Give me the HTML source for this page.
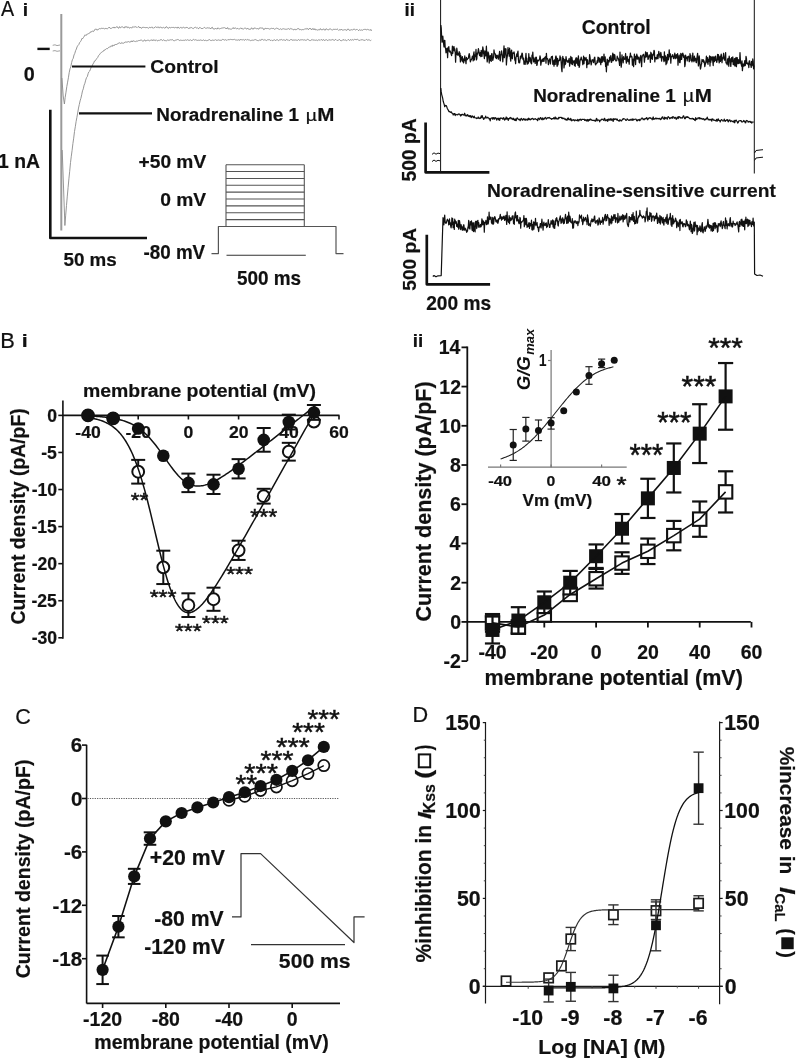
<!DOCTYPE html>
<html><head><meta charset="utf-8"><style>
html,body{margin:0;padding:0;background:#fff;}
svg{display:block;font-family:"Liberation Sans",sans-serif;will-change:transform;}
</style></head><body>
<svg width="796" height="1059" viewBox="0 0 796 1059">
<rect width="796" height="1059" fill="#fff"/>
<text transform="translate(0.90,16.00) scale(0.9247,1)" font-size="21.30" font-weight="normal" font-style="normal" fill="#111" stroke="#111" stroke-width="0.2" >A</text>
<text transform="translate(22.85,16.00) scale(1.0924,1)" font-size="17.66" font-weight="bold" font-style="normal" fill="#111" stroke="#111" stroke-width="0.2" >i</text>
<rect x="37.40" y="47.70" width="12.30" height="2.40" fill="#111" />
<text transform="translate(23.81,81.40) scale(0.9965,1)" font-size="19.86" font-weight="bold" font-style="normal" fill="#111" stroke="#111" stroke-width="0.2" >0</text>
<polyline points="52.70,45.30 55.00,44.80 57.00,45.60 60.00,45.00" fill="none" stroke="#8a8a8a" stroke-width="0.8" stroke-linejoin="round" />
<polyline points="52.70,51.00 55.00,50.60 57.00,51.30 60.00,50.80" fill="none" stroke="#8a8a8a" stroke-width="0.8" stroke-linejoin="round" />
<line x1="61.30" y1="14.00" x2="61.30" y2="230.50" stroke="#9a9a9a" stroke-width="2.0" />
<polyline points="61.90,78.00 63.20,96.00 64.40,104.00 65.20,97.31 66.00,92.14 66.80,86.58 67.60,82.17 68.40,77.77 69.20,72.68 70.00,68.83 70.80,66.86 71.60,62.65 72.40,59.69 73.20,58.38 74.00,54.98 74.80,53.37 75.60,50.64 76.40,49.02 77.20,46.39 78.00,45.64 78.80,44.57 79.60,42.59 80.40,41.72 81.20,40.44 82.00,38.29 82.80,38.57 83.60,37.37 84.40,36.02 85.20,34.78 86.00,35.58 86.80,34.24 87.60,34.09 88.40,33.84 89.20,33.04 90.00,32.96 90.80,31.59 91.60,31.94 92.40,30.94 93.20,31.50 94.00,31.10 94.80,29.41 95.60,29.23 96.40,29.14 97.20,30.28 98.00,29.13 98.80,29.29 99.60,28.54 100.40,28.75 101.20,28.39 102.00,28.20 102.80,28.51 103.60,28.39 104.40,28.87 105.20,28.38 106.00,28.74 106.80,28.53 107.60,28.70 108.40,28.06 109.20,27.08 110.00,28.28 110.80,28.43 111.60,28.28 112.40,27.64 113.20,27.87 114.00,26.94 114.80,28.03 115.60,27.55 116.40,27.01 117.20,26.59 118.00,28.00 118.80,28.23 119.60,26.60 120.40,27.87 121.20,27.16 122.00,26.69 122.80,26.94 123.60,27.79 124.40,27.98 125.20,26.48 126.00,27.51 126.80,26.48 127.60,27.69 128.40,27.00 129.20,27.99 130.00,28.17 130.80,27.32 131.60,28.21 132.40,26.97 133.20,26.56 134.00,27.51 134.80,26.49 135.60,26.79 136.40,27.18 137.20,27.55 138.00,26.74 138.80,26.54 139.60,28.03 140.40,27.04 141.20,28.21 142.00,28.10 142.80,27.18 143.60,27.33 144.40,27.45 145.20,27.68 146.00,27.60 146.80,27.54 147.60,27.66 148.40,28.25 149.20,27.47 150.00,27.35 150.80,27.87 151.60,27.01 152.40,27.14 153.20,28.36 154.00,27.55 154.80,27.61 155.60,26.65 156.40,27.39 157.20,27.69 158.00,26.69 158.80,27.77 159.60,27.81 160.40,26.79 161.20,27.82 162.00,27.54 162.80,27.93 163.60,27.35 164.40,28.00 165.20,28.06 166.00,26.79 166.80,26.86 167.60,27.98 168.40,28.51 169.20,27.23 170.00,27.61 170.80,27.87 171.60,27.39 172.40,27.47 173.20,27.39 174.00,27.50 174.80,27.92 175.60,27.40 176.40,27.54 177.20,28.26 178.00,26.93 178.80,27.92 179.60,28.22 180.40,27.47 181.20,27.32 182.00,28.37 182.80,27.37 183.60,27.28 184.40,27.74 185.20,28.22 186.00,27.16 186.80,27.56 187.60,27.59 188.40,28.50 189.20,27.80 190.00,28.56 190.80,27.33 191.60,27.64 192.40,28.22 193.20,28.65 194.00,27.88 194.80,27.48 195.60,27.30 196.40,28.05 197.20,27.45 198.00,28.56 198.80,28.63 199.60,27.46 200.40,27.64 201.20,28.60 202.00,28.31 202.80,28.62 203.60,27.80 204.40,27.42 205.20,27.72 206.00,28.63 206.80,27.70 207.60,27.85 208.40,27.98 209.20,28.00 210.00,27.99 210.80,28.92 211.60,27.55 212.40,27.29 213.20,28.98 214.00,28.88 214.80,29.08 215.60,28.10 216.40,29.03 217.20,29.00 218.00,27.74 218.80,28.69 219.60,28.87 220.40,28.56 221.20,28.31 222.00,27.91 222.80,28.01 223.60,27.82 224.40,27.54 225.20,28.48 226.00,27.95 226.80,28.90 227.60,27.53 228.40,29.09 229.20,28.72 230.00,29.14 230.80,29.10 231.60,29.12 232.40,28.55 233.20,27.54 234.00,28.87 234.80,27.84 235.60,28.08 236.40,28.75 237.20,28.51 238.00,28.32 238.80,29.27 239.60,28.69 240.40,28.21 241.20,28.06 242.00,29.17 242.80,28.49 243.60,29.04 244.40,28.28 245.20,28.01 246.00,28.63 246.80,29.14 247.60,27.99 248.40,29.12 249.20,29.36 250.00,29.16 250.80,29.20 251.60,27.74 252.40,28.87 253.20,29.30 254.00,27.85 254.80,28.25 255.60,28.26 256.40,28.73 257.20,28.55 258.00,28.65 258.80,29.21 259.60,27.82 260.40,27.93 261.20,28.07 262.00,28.07 262.80,27.98 263.60,29.62 264.40,29.41 265.20,28.04 266.00,28.80 266.80,28.47 267.60,28.48 268.40,28.55 269.20,29.09 270.00,28.99 270.80,28.60 271.60,28.30 272.40,28.56 273.20,28.20 274.00,28.99 274.80,29.28 275.60,28.69 276.40,28.16 277.20,28.34 278.00,28.70 278.80,29.13 279.60,29.46 280.40,28.74 281.20,29.51 282.00,29.20 282.80,28.86 283.60,28.77 284.40,29.00 285.20,29.38 286.00,28.88 286.80,29.38 287.60,28.97 288.40,28.59 289.20,29.12 290.00,29.42 290.80,28.31 291.60,28.95 292.40,28.96 293.20,29.79 294.00,29.90 294.80,28.90 295.60,29.85 296.40,29.67 297.20,28.72 298.00,29.10 298.80,28.49 299.60,29.74 300.40,29.48 301.20,29.89 302.00,29.73 302.80,29.52 303.60,29.65 304.40,29.35 305.20,28.53 306.00,29.41 306.80,28.37 307.60,28.63 308.40,29.77 309.20,28.47 310.00,28.56 310.80,28.59 311.60,30.00 312.40,28.75 313.20,28.48 314.00,29.96 314.80,28.67 315.60,29.98 316.40,29.68 317.20,29.99 318.00,30.21 318.80,29.54 319.60,29.95 320.40,28.58 321.20,29.91 322.00,29.46 322.80,29.83 323.60,28.75 324.40,29.91 325.20,30.26 326.00,28.69 326.80,29.18 327.60,29.62 328.40,30.10 329.20,29.06 330.00,28.95 330.80,29.09 331.60,29.76 332.40,30.01 333.20,29.37 334.00,29.34 334.80,29.40 335.60,29.32 336.40,29.46 337.20,28.86 338.00,29.62 338.80,30.48 339.60,29.48 340.40,30.09 341.20,29.05 342.00,30.01 342.80,30.14 343.60,30.00 344.40,29.73 345.20,29.67 346.00,29.97 346.80,30.44 347.60,29.10 348.40,29.01 349.20,30.20 350.00,30.51 350.80,29.80 351.60,29.67 352.40,30.18 353.20,29.23 354.00,29.39 354.80,29.27 355.60,29.98 356.40,29.50 357.20,29.36 358.00,30.19 358.80,30.68 359.60,29.50 360.40,30.25 361.20,29.73 362.00,30.53 362.80,30.06 363.60,29.50 364.40,29.42 365.20,29.07 366.00,29.91 366.80,29.74 367.60,29.37 368.40,29.72 369.20,29.66 370.00,30.48 370.80,29.36 371.60,30.89" fill="none" stroke="#8a8a8a" stroke-width="0.9" stroke-linejoin="round" />
<polyline points="62.20,150.00 64.90,225.50 65.70,215.15 66.50,205.39 67.30,196.10 68.10,187.48 68.90,178.87 69.70,171.26 70.50,162.60 71.30,156.22 72.10,150.29 72.90,143.66 73.70,138.15 74.50,131.51 75.30,126.78 76.10,121.55 76.90,117.32 77.70,112.98 78.50,108.06 79.30,104.45 80.10,100.86 80.90,98.28 81.70,94.79 82.50,90.86 83.30,88.84 84.10,85.17 84.90,83.25 85.70,80.12 86.50,77.64 87.30,76.68 88.10,73.70 88.90,71.78 89.70,71.03 90.50,69.15 91.30,66.71 92.10,66.12 92.90,64.08 93.70,62.91 94.50,60.97 95.30,60.78 96.10,59.29 96.90,58.60 97.70,57.48 98.50,55.68 99.30,54.87 100.10,53.74 100.90,52.90 101.70,52.03 102.50,51.65 103.30,51.39 104.10,49.91 104.90,50.26 105.70,49.21 106.50,48.64 107.30,48.85 108.10,47.90 108.90,47.22 109.70,47.02 110.50,46.94 111.30,45.65 112.10,46.58 112.90,44.91 113.70,45.61 114.50,45.45 115.30,44.01 116.10,44.82 116.90,43.98 117.70,44.04 118.50,43.02 119.30,42.86 120.10,42.85 120.90,43.75 121.70,42.51 122.50,43.13 123.30,43.21 124.10,43.08 124.90,42.11 125.70,41.99 126.50,42.10 127.30,42.34 128.10,41.29 128.90,42.08 129.70,42.05 130.50,42.05 131.30,40.81 132.10,42.00 132.90,40.72 133.70,41.00 134.50,41.31 135.30,41.67 136.10,40.80 136.90,41.56 137.70,40.98 138.50,40.60 139.30,40.56 140.10,40.31 140.90,40.13 141.70,40.19 142.50,40.91 143.30,41.30 144.10,40.10 144.90,39.91 145.70,41.19 146.50,40.53 147.30,40.32 148.10,40.06 148.90,40.53 149.70,40.84 150.50,40.30 151.30,40.23 152.10,39.70 152.90,40.88 153.70,39.63 154.50,40.26 155.30,40.73 156.10,39.72 156.90,40.55 157.70,40.84 158.50,40.38 159.30,40.59 160.10,39.63 160.90,40.08 161.70,39.67 162.50,40.63 163.30,39.85 164.10,40.07 164.90,40.82 165.70,40.61 166.50,40.78 167.30,40.04 168.10,40.08 168.90,40.41 169.70,40.06 170.50,39.79 171.30,39.94 172.10,39.58 172.90,39.90 173.70,40.75 174.50,40.71 175.30,40.24 176.10,40.05 176.90,39.83 177.70,39.47 178.50,39.73 179.30,40.44 180.10,40.56 180.90,39.84 181.70,40.44 182.50,40.42 183.30,40.31 184.10,40.26 184.90,40.39 185.70,39.84 186.50,40.31 187.30,39.72 188.10,40.00 188.90,40.40 189.70,40.29 190.50,39.73 191.30,40.64 192.10,40.23 192.90,40.13 193.70,39.33 194.50,40.08 195.30,39.66 196.10,40.25 196.90,39.96 197.70,40.45 198.50,40.22 199.30,40.43 200.10,39.80 200.90,40.21 201.70,40.34 202.50,40.47 203.30,39.80 204.10,40.49 204.90,40.52 205.70,40.27 206.50,40.67 207.30,40.64 208.10,40.03 208.90,40.05 209.70,39.54 210.50,40.48 211.30,40.62 212.10,39.97 212.90,40.27 213.70,40.31 214.50,40.33 215.30,39.54 216.10,40.40 216.90,40.12 217.70,40.23 218.50,39.89 219.30,40.18 220.10,40.39 220.90,40.19 221.70,40.31 222.50,39.34 223.30,39.53 224.10,39.92 224.90,40.21 225.70,39.61 226.50,40.26 227.30,40.18 228.10,39.36 228.90,39.96 229.70,39.62 230.50,39.38 231.30,39.49 232.10,39.75 232.90,39.56 233.70,39.57 234.50,39.35 235.30,39.95 236.10,39.83 236.90,40.16 237.70,40.13 238.50,39.63 239.30,40.57 240.10,39.30 240.90,39.87 241.70,39.69 242.50,39.87 243.30,39.46 244.10,40.46 244.90,39.82 245.70,39.35 246.50,40.16 247.30,39.43 248.10,40.06 248.90,39.78 249.70,40.11 250.50,40.64 251.30,40.45 252.10,39.89 252.90,40.44 253.70,40.20 254.50,39.82 255.30,39.50 256.10,40.13 256.90,40.09 257.70,40.64 258.50,40.66 259.30,40.15 260.10,39.79 260.90,40.55 261.70,39.30 262.50,39.45 263.30,40.09 264.10,40.16 264.90,39.50 265.70,40.18 266.50,40.55 267.30,39.83 268.10,39.90 268.90,39.62 269.70,39.71 270.50,40.66 271.30,39.83 272.10,40.65 272.90,40.58 273.70,40.13 274.50,39.66 275.30,40.67 276.10,39.99 276.90,39.88 277.70,39.75 278.50,40.68 279.30,39.99 280.10,39.70 280.90,39.97 281.70,39.47 282.50,40.17 283.30,39.92 284.10,39.71 284.90,40.39 285.70,40.46 286.50,39.32 287.30,40.05 288.10,39.68 288.90,40.61 289.70,40.39 290.50,39.64 291.30,39.67 292.10,39.52 292.90,40.68 293.70,39.71 294.50,40.15 295.30,39.96 296.10,40.20 296.90,40.15 297.70,40.34 298.50,39.47 299.30,40.36 300.10,39.72 300.90,40.05 301.70,39.77 302.50,39.72 303.30,40.04 304.10,39.95 304.90,39.81 305.70,40.34 306.50,40.13 307.30,39.35 308.10,39.65 308.90,39.94 309.70,40.58 310.50,40.54 311.30,40.06 312.10,39.32 312.90,40.39 313.70,39.90 314.50,40.11 315.30,40.29 316.10,40.19 316.90,39.97 317.70,40.58 318.50,39.84 319.30,39.85 320.10,40.49 320.90,39.58 321.70,39.72 322.50,40.46 323.30,39.39 324.10,40.47 324.90,40.27 325.70,39.91 326.50,39.70 327.30,40.39 328.10,40.57 328.90,39.50 329.70,39.97 330.50,40.07 331.30,40.00 332.10,39.76 332.90,39.51 333.70,40.12 334.50,40.44 335.30,39.40 336.10,39.62 336.90,40.45 337.70,40.41 338.50,40.23 339.30,39.34 340.10,40.31 340.90,40.67 341.70,40.70 342.50,40.28 343.30,39.37 344.10,40.48 344.90,39.61 345.70,40.20 346.50,40.63 347.30,40.30 348.10,39.49 348.90,39.71 349.70,40.59 350.50,39.51 351.30,40.15 352.10,39.88 352.90,39.53 353.70,40.17 354.50,39.36 355.30,39.45 356.10,39.83 356.90,39.40 357.70,39.38 358.50,40.11 359.30,40.34 360.10,40.53 360.90,39.49 361.70,39.90 362.50,39.74 363.30,40.14 364.10,39.99 364.90,40.61 365.70,39.82 366.50,39.38 367.30,40.28 368.10,39.51 368.90,40.18 369.70,40.01 370.50,40.57 371.30,40.08" fill="none" stroke="#8a8a8a" stroke-width="0.9" stroke-linejoin="round" />
<line x1="72.00" y1="66.50" x2="145.40" y2="66.50" stroke="#111" stroke-width="2.2" />
<line x1="79.00" y1="113.30" x2="152.00" y2="113.30" stroke="#111" stroke-width="2.2" />
<text transform="translate(150.23,72.81) scale(1.0119,1)" font-size="19.05" font-weight="bold" font-style="normal" fill="#111" stroke="#111" stroke-width="0.2" >Control</text>
<text transform="translate(156.27,120.70) scale(1.0419,1)" font-size="18.12" font-weight="bold" font-style="normal" fill="#111" stroke="#111" stroke-width="0.2" >Noradrenaline 1</text>
<text transform="translate(305.84,120.92) scale(1.1383,1)" font-size="17.03" font-weight="normal" font-style="normal" fill="#111" stroke="#111" stroke-width="0.2" >µ</text>
<text transform="translate(317.16,120.70) scale(1.1355,1)" font-size="18.12" font-weight="bold" font-style="normal" fill="#111" stroke="#111" stroke-width="0.2" >M</text>
<polyline points="50.30,111.00 50.30,238.00 145.70,238.00" fill="none" stroke="#111" stroke-width="2.6" stroke-linejoin="round" stroke-linecap="square"/>
<text transform="translate(-1.96,167.90) scale(0.9830,1)" font-size="19.71" font-weight="bold" font-style="normal" fill="#111" stroke="#111" stroke-width="0.2" >1 nA</text>
<text transform="translate(63.44,265.71) scale(0.9818,1)" font-size="19.15" font-weight="bold" font-style="normal" fill="#111" stroke="#111" stroke-width="0.2" >50 ms</text>
<polyline points="211.50,253.60 218.40,253.60 218.40,226.50 336.00,226.50 336.00,253.60 343.50,253.60" fill="none" stroke="#555" stroke-width="1.2" stroke-linejoin="round" />
<line x1="226.00" y1="164.70" x2="304.30" y2="164.70" stroke="#555" stroke-width="1.1" />
<line x1="226.00" y1="171.57" x2="304.30" y2="171.57" stroke="#555" stroke-width="1.1" />
<line x1="226.00" y1="178.43" x2="304.30" y2="178.43" stroke="#555" stroke-width="1.1" />
<line x1="226.00" y1="185.30" x2="304.30" y2="185.30" stroke="#555" stroke-width="1.1" />
<line x1="226.00" y1="192.17" x2="304.30" y2="192.17" stroke="#555" stroke-width="1.1" />
<line x1="226.00" y1="199.03" x2="304.30" y2="199.03" stroke="#555" stroke-width="1.1" />
<line x1="226.00" y1="205.90" x2="304.30" y2="205.90" stroke="#555" stroke-width="1.1" />
<line x1="226.00" y1="212.77" x2="304.30" y2="212.77" stroke="#555" stroke-width="1.1" />
<line x1="226.00" y1="219.63" x2="304.30" y2="219.63" stroke="#555" stroke-width="1.1" />
<line x1="226.00" y1="226.50" x2="304.30" y2="226.50" stroke="#555" stroke-width="1.1" />
<line x1="226.00" y1="164.70" x2="226.00" y2="226.50" stroke="#555" stroke-width="1.1" />
<line x1="304.30" y1="164.70" x2="304.30" y2="226.50" stroke="#555" stroke-width="1.1" />
<line x1="226.50" y1="255.30" x2="305.80" y2="255.30" stroke="#333" stroke-width="1.1" />
<text transform="translate(138.53,168.00) scale(1.0088,1)" font-size="19.00" font-weight="bold" font-style="normal" fill="#111" stroke="#111" stroke-width="0.2" >+50 mV</text>
<text transform="translate(160.23,205.60) scale(0.9972,1)" font-size="19.29" font-weight="bold" font-style="normal" fill="#111" stroke="#111" stroke-width="0.2" >0 mV</text>
<text transform="translate(143.45,259.40) scale(0.9689,1)" font-size="19.43" font-weight="bold" font-style="normal" fill="#111" stroke="#111" stroke-width="0.2" >-80 mV</text>
<text transform="translate(236.93,284.90) scale(0.9808,1)" font-size="19.29" font-weight="bold" font-style="normal" fill="#111" stroke="#111" stroke-width="0.2" >500 ms</text>
<text transform="translate(404.60,15.80) scale(1.0602,1)" font-size="17.52" font-weight="bold" font-style="normal" fill="#111" stroke="#111" stroke-width="0.2" >ii</text>
<line x1="440.60" y1="0.00" x2="440.60" y2="172.50" stroke="#111" stroke-width="1.0" />
<line x1="754.30" y1="0.00" x2="754.30" y2="173.50" stroke="#111" stroke-width="1.0" />
<polyline points="440.80,25.00 441.20,27.77 441.60,36.03 442.00,42.13 442.40,38.41 442.80,36.08 443.20,40.69 443.60,43.79 444.00,46.95 444.40,40.57 444.80,40.33 445.20,47.58 445.60,48.47 446.00,52.80 446.40,51.86 446.80,48.61 447.20,48.04 447.60,57.62 448.00,49.85 448.40,47.69 448.80,46.67 449.20,50.95 449.60,52.01 450.00,50.93 450.40,51.62 450.80,52.76 451.20,54.22 451.60,55.67 452.00,52.91 452.40,46.03 452.80,53.28 453.20,47.20 453.60,50.49 454.00,46.60 454.40,50.90 454.80,48.83 455.20,51.78 455.60,62.14 456.00,52.44 456.40,54.61 456.80,48.21 457.20,51.19 457.60,55.02 458.00,53.41 458.40,55.10 458.80,54.82 459.20,51.56 459.60,56.66 460.00,53.17 460.40,61.88 460.80,55.56 461.20,59.07 461.60,57.64 462.00,60.95 462.40,56.66 462.80,61.75 463.20,58.81 463.60,62.85 464.00,61.15 464.40,59.28 464.80,55.96 465.20,60.51 465.60,59.98 466.00,63.65 466.40,57.42 466.80,59.61 467.20,59.62 467.60,58.80 468.00,58.36 468.40,58.13 468.80,55.46 469.20,53.69 469.60,55.39 470.00,58.72 470.40,61.84 470.80,60.23 471.20,60.03 471.60,58.86 472.00,58.21 472.40,56.20 472.80,57.63 473.20,60.81 473.60,54.10 474.00,51.85 474.40,59.97 474.80,55.11 475.20,56.64 475.60,56.26 476.00,49.42 476.40,59.97 476.80,58.84 477.20,53.25 477.60,54.20 478.00,52.03 478.40,48.64 478.80,50.85 479.20,52.81 479.60,55.58 480.00,54.69 480.40,52.59 480.80,56.66 481.20,50.37 481.60,54.79 482.00,56.47 482.40,52.21 482.80,46.93 483.20,49.29 483.60,53.41 484.00,54.96 484.40,58.58 484.80,50.81 485.20,53.27 485.60,55.78 486.00,53.57 486.40,46.21 486.80,55.78 487.20,61.95 487.60,58.54 488.00,51.98 488.40,52.95 488.80,55.25 489.20,63.01 489.60,57.96 490.00,55.83 490.40,60.32 490.80,55.58 491.20,61.40 491.60,53.86 492.00,53.70 492.40,57.63 492.80,60.45 493.20,58.34 493.60,56.99 494.00,49.98 494.40,52.80 494.80,53.53 495.20,53.93 495.60,57.68 496.00,55.18 496.40,58.60 496.80,56.77 497.20,55.25 497.60,56.60 498.00,57.83 498.40,59.22 498.80,54.90 499.20,55.05 499.60,51.26 500.00,60.33 500.40,60.80 500.80,55.41 501.20,53.66 501.60,50.85 502.00,54.96 502.40,55.44 502.80,61.80 503.20,56.13 503.60,51.99 504.00,45.93 504.40,57.62 504.80,54.92 505.20,48.74 505.60,53.93 506.00,48.82 506.40,64.87 506.80,59.20 507.20,56.83 507.60,54.20 508.00,47.58 508.40,53.43 508.80,49.58 509.20,56.21 509.60,48.19 510.00,51.33 510.40,58.72 510.80,61.08 511.20,52.26 511.60,50.14 512.00,57.84 512.40,58.77 512.80,52.98 513.20,53.33 513.60,53.46 514.00,51.96 514.40,53.53 514.80,60.09 515.20,59.17 515.60,63.64 516.00,57.33 516.40,56.54 516.80,53.82 517.20,56.42 517.60,52.99 518.00,51.20 518.40,59.17 518.80,62.68 519.20,61.26 519.60,62.84 520.00,59.64 520.40,56.23 520.80,58.57 521.20,57.48 521.60,55.08 522.00,53.03 522.40,53.59 522.80,58.60 523.20,59.84 523.60,58.09 524.00,64.20 524.40,61.00 524.80,62.06 525.20,64.31 525.60,57.94 526.00,53.43 526.40,61.75 526.80,58.06 527.20,64.12 527.60,61.68 528.00,63.57 528.40,63.00 528.80,53.67 529.20,61.67 529.60,58.10 530.00,57.40 530.40,58.36 530.80,62.39 531.20,63.25 531.60,63.77 532.00,55.14 532.40,57.58 532.80,52.06 533.20,58.80 533.60,61.90 534.00,57.83 534.40,60.62 534.80,60.92 535.20,63.48 535.60,57.83 536.00,57.13 536.40,57.26 536.80,65.47 537.20,64.29 537.60,60.20 538.00,60.85 538.40,60.56 538.80,60.82 539.20,59.51 539.60,58.94 540.00,55.87 540.40,57.54 540.80,65.24 541.20,62.57 541.60,60.75 542.00,59.65 542.40,60.46 542.80,61.53 543.20,58.44 543.60,60.85 544.00,61.31 544.40,58.18 544.80,57.71 545.20,57.00 545.60,56.74 546.00,63.10 546.40,53.31 546.80,58.99 547.20,58.58 547.60,58.54 548.00,60.90 548.40,64.58 548.80,61.63 549.20,60.60 549.60,58.97 550.00,60.39 550.40,63.98 550.80,60.19 551.20,57.32 551.60,56.62 552.00,57.09 552.40,56.25 552.80,64.29 553.20,62.87 553.60,60.80 554.00,66.11 554.40,59.89 554.80,63.77 555.20,64.42 555.60,56.89 556.00,55.99 556.40,57.96 556.80,64.20 557.20,66.26 557.60,58.32 558.00,64.81 558.40,60.96 558.80,60.50 559.20,59.96 559.60,60.67 560.00,55.92 560.40,57.99 560.80,57.46 561.20,63.00 561.60,68.85 562.00,71.63 562.40,61.96 562.80,56.27 563.20,59.85 563.60,58.53 564.00,67.87 564.40,64.38 564.80,59.71 565.20,64.55 565.60,63.81 566.00,56.67 566.40,59.36 566.80,60.62 567.20,61.59 567.60,62.06 568.00,60.57 568.40,62.09 568.80,59.73 569.20,58.42 569.60,66.10 570.00,63.25 570.40,63.14 570.80,56.49 571.20,60.33 571.60,63.98 572.00,57.53 572.40,64.52 572.80,60.50 573.20,62.58 573.60,61.06 574.00,62.01 574.40,65.32 574.80,60.46 575.20,66.27 575.60,59.31 576.00,57.97 576.40,63.14 576.80,57.96 577.20,59.59 577.60,63.93 578.00,65.42 578.40,55.86 578.80,62.12 579.20,67.34 579.60,65.71 580.00,60.83 580.40,59.05 580.80,59.81 581.20,57.09 581.60,59.64 582.00,60.19 582.40,60.37 582.80,64.70 583.20,60.60 583.60,56.10 584.00,63.71 584.40,57.69 584.80,58.99 585.20,60.15 585.60,59.58 586.00,57.36 586.40,59.53 586.80,67.69 587.20,59.57 587.60,60.11 588.00,64.26 588.40,63.51 588.80,63.46 589.20,63.76 589.60,54.56 590.00,57.04 590.40,60.55 590.80,62.16 591.20,64.93 591.60,62.56 592.00,59.95 592.40,60.53 592.80,59.76 593.20,61.15 593.60,62.69 594.00,59.55 594.40,57.62 594.80,57.23 595.20,63.53 595.60,64.86 596.00,64.07 596.40,63.51 596.80,63.35 597.20,60.60 597.60,62.42 598.00,57.03 598.40,59.14 598.80,57.64 599.20,62.20 599.60,58.48 600.00,59.55 600.40,61.33 600.80,64.65 601.20,58.05 601.60,56.78 602.00,62.34 602.40,56.73 602.80,61.13 603.20,58.32 603.60,59.49 604.00,54.05 604.40,61.64 604.80,58.59 605.20,56.92 605.60,66.41 606.00,63.09 606.40,71.80 606.80,62.74 607.20,59.19 607.60,60.24 608.00,65.24 608.40,60.52 608.80,61.50 609.20,61.83 609.60,57.22 610.00,60.04 610.40,58.32 610.80,55.69 611.20,62.26 611.60,62.37 612.00,60.46 612.40,57.02 612.80,53.03 613.20,60.66 613.60,59.67 614.00,54.38 614.40,59.03 614.80,54.82 615.20,59.18 615.60,60.25 616.00,61.06 616.40,60.70 616.80,60.51 617.20,56.21 617.60,58.15 618.00,57.96 618.40,58.83 618.80,60.58 619.20,61.92 619.60,65.38 620.00,52.11 620.40,60.18 620.80,59.19 621.20,67.12 621.60,63.70 622.00,54.86 622.40,60.48 622.80,58.15 623.20,62.79 623.60,56.67 624.00,59.04 624.40,59.22 624.80,59.35 625.20,57.78 625.60,53.50 626.00,60.46 626.40,63.05 626.80,59.88 627.20,56.40 627.60,59.95 628.00,61.55 628.40,59.33 628.80,59.58 629.20,64.24 629.60,56.56 630.00,57.46 630.40,53.18 630.80,56.58 631.20,56.86 631.60,56.17 632.00,56.95 632.40,65.14 632.80,59.63 633.20,59.23 633.60,66.71 634.00,60.25 634.40,54.02 634.80,60.22 635.20,56.60 635.60,64.55 636.00,56.10 636.40,57.25 636.80,54.04 637.20,59.20 637.60,56.19 638.00,58.92 638.40,58.22 638.80,57.37 639.20,62.32 639.60,62.89 640.00,60.11 640.40,56.48 640.80,55.34 641.20,59.43 641.60,66.68 642.00,58.14 642.40,55.90 642.80,55.77 643.20,54.32 643.60,54.40 644.00,56.76 644.40,62.24 644.80,58.08 645.20,55.78 645.60,51.76 646.00,57.09 646.40,56.80 646.80,52.72 647.20,52.54 647.60,55.78 648.00,59.46 648.40,58.50 648.80,56.87 649.20,54.81 649.60,56.51 650.00,55.49 650.40,62.34 650.80,52.25 651.20,53.39 651.60,58.71 652.00,54.21 652.40,59.26 652.80,55.14 653.20,55.32 653.60,53.72 654.00,50.30 654.40,51.28 654.80,61.83 655.20,58.05 655.60,57.52 656.00,58.65 656.40,57.59 656.80,59.00 657.20,55.03 657.60,54.75 658.00,58.71 658.40,54.89 658.80,51.31 659.20,54.53 659.60,53.94 660.00,57.70 660.40,53.87 660.80,52.36 661.20,54.61 661.60,61.07 662.00,56.70 662.40,56.91 662.80,56.50 663.20,57.44 663.60,59.67 664.00,61.52 664.40,51.90 664.80,60.59 665.20,57.25 665.60,55.88 666.00,64.62 666.40,57.37 666.80,63.44 667.20,61.05 667.60,54.32 668.00,58.51 668.40,59.88 668.80,57.30 669.20,49.87 669.60,55.50 670.00,56.73 670.40,53.89 670.80,63.10 671.20,57.46 671.60,56.30 672.00,56.47 672.40,54.91 672.80,54.75 673.20,57.56 673.60,58.62 674.00,56.07 674.40,57.12 674.80,53.02 675.20,58.75 675.60,55.30 676.00,58.02 676.40,54.70 676.80,55.57 677.20,58.06 677.60,53.71 678.00,65.17 678.40,58.39 678.80,57.46 679.20,55.19 679.60,62.50 680.00,62.70 680.40,59.19 680.80,53.34 681.20,55.45 681.60,59.35 682.00,56.14 682.40,53.57 682.80,53.25 683.20,54.57 683.60,57.28 684.00,55.45 684.40,57.40 684.80,66.67 685.20,64.46 685.60,55.04 686.00,58.41 686.40,57.98 686.80,57.20 687.20,60.95 687.60,56.92 688.00,56.46 688.40,56.24 688.80,57.11 689.20,61.73 689.60,60.62 690.00,53.60 690.40,55.92 690.80,55.25 691.20,60.64 691.60,59.57 692.00,61.82 692.40,59.20 692.80,53.08 693.20,60.25 693.60,60.59 694.00,61.75 694.40,56.21 694.80,60.26 695.20,58.45 695.60,58.45 696.00,62.05 696.40,62.69 696.80,58.92 697.20,56.01 697.60,53.40 698.00,59.47 698.40,65.94 698.80,63.10 699.20,55.82 699.60,59.67 700.00,64.53 700.40,69.01 700.80,67.77 701.20,64.88 701.60,63.85 702.00,59.50 702.40,60.83 702.80,61.24 703.20,59.72 703.60,62.14 704.00,60.81 704.40,62.89 704.80,66.58 705.20,64.64 705.60,63.22 706.00,60.77 706.40,56.18 706.80,60.08 707.20,62.55 707.60,57.66 708.00,64.31 708.40,59.81 708.80,61.43 709.20,59.22 709.60,55.80 710.00,66.08 710.40,56.67 710.80,62.18 711.20,57.91 711.60,59.98 712.00,56.56 712.40,57.37 712.80,61.75 713.20,65.55 713.60,56.84 714.00,58.52 714.40,61.71 714.80,56.89 715.20,60.61 715.60,56.12 716.00,60.04 716.40,59.90 716.80,62.34 717.20,59.81 717.60,54.37 718.00,59.70 718.40,54.52 718.80,59.86 719.20,62.91 719.60,60.23 720.00,56.11 720.40,61.44 720.80,58.87 721.20,54.09 721.60,56.54 722.00,62.73 722.40,57.99 722.80,58.93 723.20,57.66 723.60,53.25 724.00,56.68 724.40,60.04 724.80,60.08 725.20,58.96 725.60,52.57 726.00,62.86 726.40,62.58 726.80,63.66 727.20,64.82 727.60,59.40 728.00,58.35 728.40,61.34 728.80,66.25 729.20,56.03 729.60,59.67 730.00,58.65 730.40,62.80 730.80,66.37 731.20,61.19 731.60,57.61 732.00,61.51 732.40,61.01 732.80,56.98 733.20,64.53 733.60,60.97 734.00,64.60 734.40,58.65 734.80,65.91 735.20,58.57 735.60,65.79 736.00,57.31 736.40,66.67 736.80,62.06 737.20,57.65 737.60,61.41 738.00,63.71 738.40,59.64 738.80,60.76 739.20,63.36 739.60,62.23 740.00,52.65 740.40,60.07 740.80,63.73 741.20,63.74 741.60,66.04 742.00,60.77 742.40,70.68 742.80,66.15 743.20,64.00 743.60,66.24 744.00,66.07 744.40,63.26 744.80,60.56 745.20,65.57 745.60,64.20 746.00,56.49 746.40,58.11 746.80,63.41 747.20,62.86 747.60,63.34 748.00,64.56 748.40,63.07 748.80,67.56 749.20,61.01 749.60,60.83 750.00,63.14 750.40,64.78 750.80,65.10 751.20,67.41 751.60,61.27 752.00,65.87 752.40,64.13 752.80,58.99 753.20,61.31 753.60,68.81 754.00,65.46" fill="none" stroke="#111" stroke-width="1.25" stroke-linejoin="round" />
<polyline points="440.80,88.00 441.20,91.68 441.70,94.60 442.20,96.47 442.70,98.25 443.20,101.28 443.70,102.87 444.20,104.46 444.70,106.75 445.20,105.92 445.70,105.43 446.20,105.55 446.70,106.59 447.20,108.16 447.70,109.14 448.20,110.00 448.70,111.16 449.20,111.75 449.70,111.47 450.20,112.27 450.70,112.34 451.20,111.77 451.70,113.03 452.20,113.17 452.70,113.27 453.20,114.97 453.70,114.59 454.20,113.56 454.70,113.63 455.20,115.58 455.70,114.22 456.20,114.63 456.70,114.72 457.20,114.72 457.70,114.84 458.20,114.10 458.70,113.95 459.20,114.20 459.70,114.18 460.20,115.14 460.70,116.06 461.20,114.49 461.70,115.20 462.20,114.28 462.70,114.29 463.20,114.70 463.70,115.15 464.20,114.92 464.70,113.21 465.20,115.87 465.70,115.44 466.20,115.08 466.70,116.06 467.20,115.41 467.70,114.63 468.20,115.95 468.70,116.34 469.20,115.55 469.70,116.67 470.20,116.70 470.70,115.59 471.20,117.56 471.70,117.06 472.20,115.87 472.70,116.81 473.20,116.89 473.70,117.64 474.20,116.10 474.70,117.57 475.20,117.99 475.70,117.98 476.20,117.97 476.70,118.57 477.20,118.34 477.70,117.85 478.20,116.96 478.70,118.23 479.20,118.52 479.70,118.10 480.20,117.87 480.70,118.27 481.20,115.88 481.70,117.39 482.20,115.66 482.70,117.30 483.20,118.45 483.70,119.46 484.20,117.94 484.70,118.20 485.20,117.90 485.70,116.15 486.20,117.95 486.70,117.92 487.20,118.00 487.70,117.25 488.20,117.75 488.70,118.01 489.20,119.04 489.70,118.60 490.20,120.98 490.70,118.67 491.20,118.10 491.70,118.12 492.20,117.55 492.70,119.21 493.20,119.05 493.70,117.52 494.20,118.16 494.70,119.18 495.20,117.50 495.70,118.23 496.20,118.17 496.70,120.18 497.20,119.30 497.70,118.41 498.20,118.04 498.70,119.86 499.20,118.59 499.70,120.37 500.20,117.92 500.70,118.27 501.20,118.36 501.70,118.04 502.20,118.35 502.70,119.16 503.20,118.36 503.70,117.54 504.20,119.48 504.70,120.18 505.20,118.72 505.70,119.08 506.20,116.96 506.70,119.16 507.20,117.98 507.70,118.26 508.20,120.48 508.70,118.49 509.20,118.91 509.70,118.20 510.20,117.40 510.70,117.71 511.20,118.94 511.70,118.10 512.20,118.42 512.70,119.56 513.20,119.23 513.70,118.25 514.20,120.17 514.70,119.69 515.20,120.56 515.70,118.93 516.20,120.59 516.70,118.74 517.20,117.89 517.70,118.68 518.20,118.98 518.70,119.58 519.20,119.12 519.70,119.89 520.20,120.66 520.70,119.32 521.20,118.35 521.70,118.80 522.20,119.88 522.70,120.18 523.20,119.36 523.70,118.60 524.20,119.11 524.70,120.02 525.20,118.97 525.70,120.21 526.20,119.73 526.70,119.63 527.20,118.87 527.70,120.18 528.20,119.53 528.70,118.13 529.20,119.50 529.70,118.93 530.20,119.91 530.70,119.48 531.20,118.72 531.70,119.10 532.20,118.69 532.70,118.29 533.20,118.82 533.70,119.60 534.20,119.22 534.70,118.98 535.20,118.52 535.70,119.25 536.20,119.23 536.70,119.74 537.20,119.42 537.70,120.69 538.20,118.17 538.70,118.58 539.20,119.15 539.70,119.59 540.20,117.82 540.70,117.51 541.20,118.33 541.70,119.42 542.20,119.77 542.70,117.82 543.20,118.50 543.70,119.51 544.20,118.91 544.70,117.89 545.20,117.81 545.70,117.30 546.20,119.10 546.70,118.50 547.20,118.17 547.70,117.71 548.20,118.13 548.70,117.65 549.20,117.44 549.70,118.09 550.20,118.13 550.70,118.66 551.20,118.56 551.70,119.33 552.20,118.59 552.70,118.59 553.20,118.56 553.70,117.73 554.20,119.02 554.70,118.03 555.20,116.93 555.70,118.79 556.20,118.87 556.70,117.93 557.20,118.82 557.70,119.08 558.20,118.95 558.70,117.43 559.20,118.01 559.70,117.23 560.20,117.34 560.70,117.47 561.20,117.32 561.70,118.36 562.20,117.71 562.70,118.65 563.20,118.62 563.70,118.05 564.20,118.52 564.70,119.10 565.20,119.67 565.70,118.78 566.20,120.11 566.70,119.64 567.20,120.06 567.70,118.21 568.20,117.91 568.70,119.63 569.20,119.07 569.70,119.47 570.20,120.21 570.70,118.41 571.20,119.38 571.70,120.87 572.20,120.46 572.70,119.83 573.20,120.05 573.70,119.72 574.20,120.25 574.70,120.86 575.20,119.90 575.70,120.27 576.20,120.21 576.70,120.57 577.20,120.79 577.70,119.41 578.20,120.77 578.70,120.98 579.20,119.57 579.70,119.81 580.20,119.01 580.70,119.71 581.20,120.42 581.70,119.46 582.20,119.46 582.70,119.38 583.20,119.49 583.70,119.46 584.20,119.21 584.70,120.41 585.20,120.15 585.70,119.60 586.20,120.83 586.70,119.99 587.20,120.87 587.70,119.47 588.20,121.10 588.70,120.14 589.20,119.46 589.70,120.30 590.20,119.20 590.70,119.06 591.20,120.03 591.70,119.76 592.20,120.36 592.70,120.34 593.20,120.41 593.70,120.33 594.20,120.75 594.70,120.32 595.20,121.04 595.70,121.13 596.20,118.90 596.70,118.38 597.20,120.79 597.70,119.96 598.20,120.19 598.70,120.02 599.20,120.27 599.70,121.84 600.20,120.04 600.70,120.10 601.20,120.06 601.70,119.20 602.20,119.10 602.70,119.53 603.20,119.85 603.70,120.26 604.20,118.55 604.70,118.34 605.20,120.77 605.70,120.07 606.20,120.64 606.70,119.84 607.20,119.37 607.70,121.41 608.20,119.42 608.70,119.07 609.20,120.19 609.70,120.01 610.20,118.67 610.70,119.64 611.20,120.38 611.70,118.85 612.20,119.14 612.70,120.26 613.20,121.46 613.70,118.54 614.20,118.92 614.70,119.58 615.20,119.05 615.70,118.89 616.20,119.15 616.70,120.01 617.20,119.04 617.70,120.24 618.20,120.56 618.70,120.67 619.20,121.23 619.70,119.80 620.20,119.73 620.70,120.52 621.20,120.95 621.70,120.83 622.20,119.71 622.70,119.34 623.20,118.58 623.70,119.03 624.20,118.80 624.70,119.05 625.20,119.20 625.70,120.17 626.20,120.48 626.70,119.87 627.20,118.83 627.70,119.36 628.20,119.89 628.70,120.37 629.20,120.01 629.70,120.36 630.20,119.33 630.70,120.02 631.20,120.29 631.70,119.52 632.20,118.98 632.70,120.34 633.20,119.03 633.70,119.93 634.20,119.45 634.70,119.25 635.20,119.25 635.70,119.08 636.20,119.33 636.70,120.79 637.20,120.96 637.70,119.77 638.20,119.86 638.70,120.21 639.20,119.27 639.70,120.72 640.20,119.75 640.70,119.89 641.20,118.70 641.70,118.20 642.20,118.13 642.70,118.37 643.20,119.71 643.70,119.06 644.20,119.78 644.70,118.97 645.20,118.30 645.70,118.95 646.20,118.69 646.70,117.62 647.20,118.60 647.70,119.76 648.20,119.01 648.70,118.01 649.20,118.03 649.70,117.67 650.20,118.30 650.70,117.93 651.20,118.44 651.70,118.80 652.20,119.78 652.70,118.15 653.20,116.95 653.70,119.41 654.20,119.21 654.70,118.52 655.20,118.97 655.70,117.98 656.20,118.12 656.70,118.93 657.20,118.40 657.70,118.56 658.20,118.83 658.70,118.65 659.20,118.30 659.70,118.77 660.20,119.51 660.70,119.68 661.20,118.06 661.70,118.82 662.20,116.98 662.70,116.78 663.20,118.11 663.70,118.60 664.20,119.37 664.70,117.20 665.20,118.69 665.70,117.88 666.20,117.67 666.70,118.30 667.20,119.21 667.70,117.66 668.20,116.59 668.70,117.10 669.20,117.61 669.70,118.76 670.20,118.45 670.70,117.83 671.20,117.47 671.70,117.38 672.20,118.43 672.70,116.71 673.20,116.92 673.70,116.83 674.20,118.33 674.70,117.99 675.20,117.26 675.70,118.12 676.20,119.29 676.70,118.93 677.20,117.06 677.70,117.36 678.20,118.51 678.70,116.61 679.20,116.51 679.70,117.13 680.20,118.06 680.70,117.32 681.20,117.87 681.70,117.82 682.20,118.19 682.70,117.16 683.20,116.08 683.70,115.84 684.20,117.57 684.70,118.73 685.20,118.72 685.70,117.13 686.20,116.58 686.70,117.55 687.20,117.38 687.70,116.64 688.20,117.40 688.70,117.49 689.20,118.06 689.70,118.64 690.20,118.68 690.70,118.72 691.20,119.01 691.70,118.63 692.20,118.28 692.70,118.27 693.20,119.47 693.70,118.72 694.20,119.36 694.70,120.23 695.20,120.57 695.70,117.71 696.20,118.63 696.70,119.58 697.20,118.78 697.70,118.36 698.20,117.70 698.70,118.11 699.20,118.77 699.70,117.54 700.20,118.63 700.70,118.35 701.20,118.95 701.70,118.30 702.20,119.02 702.70,119.32 703.20,118.78 703.70,118.65 704.20,119.88 704.70,120.03 705.20,119.01 705.70,119.66 706.20,118.65 706.70,118.86 707.20,117.10 707.70,118.40 708.20,119.78 708.70,119.31 709.20,120.02 709.70,119.31 710.20,119.84 710.70,119.68 711.20,119.01 711.70,121.20 712.20,119.62 712.70,118.78 713.20,119.68 713.70,120.24 714.20,120.33 714.70,120.03 715.20,120.40 715.70,120.90 716.20,120.83 716.70,119.29 717.20,121.24 717.70,120.49 718.20,118.74 718.70,120.45 719.20,120.24 719.70,120.52 720.20,121.94 720.70,120.45 721.20,119.95 721.70,119.55 722.20,120.35 722.70,120.98 723.20,120.98 723.70,120.83 724.20,119.05 724.70,120.37 725.20,121.42 725.70,120.53 726.20,120.26 726.70,119.82 727.20,120.67 727.70,119.54 728.20,121.89 728.70,120.98 729.20,120.41 729.70,119.78 730.20,120.95 730.70,121.64 731.20,120.68 731.70,120.97 732.20,121.16 732.70,121.75 733.20,121.67 733.70,122.13 734.20,120.24 734.70,122.78 735.20,121.16 735.70,120.21 736.20,120.09 736.70,121.07 737.20,121.67 737.70,123.14 738.20,122.67 738.70,121.00 739.20,120.84 739.70,120.71 740.20,120.58 740.70,120.88 741.20,120.64 741.70,121.95 742.20,121.72 742.70,121.88 743.20,121.34 743.70,120.41 744.20,121.38 744.70,121.04 745.20,122.78 745.70,122.73 746.20,120.85 746.70,120.47 747.20,120.70 747.70,121.04 748.20,122.20 748.70,121.54 749.20,121.84 749.70,121.35 750.20,121.29 750.70,122.40 751.20,121.80 751.70,123.14 752.20,122.01 752.70,122.01 753.20,122.03 753.70,122.25" fill="none" stroke="#111" stroke-width="1.2" stroke-linejoin="round" />
<polyline points="432.00,154.40 434.00,152.80 436.00,154.20 438.00,153.10 440.00,153.60" fill="none" stroke="#111" stroke-width="1.0" stroke-linejoin="round" />
<polyline points="432.00,161.60 434.00,160.00 436.00,161.40 438.00,160.30 440.00,160.80" fill="none" stroke="#111" stroke-width="1.0" stroke-linejoin="round" />
<polyline points="754.50,153.00 756.00,150.50 760.00,150.00 763.00,149.70" fill="none" stroke="#111" stroke-width="1.0" stroke-linejoin="round" />
<polyline points="754.50,160.50 756.00,158.00 760.00,157.50 763.00,157.20" fill="none" stroke="#111" stroke-width="1.0" stroke-linejoin="round" />
<polyline points="425.60,122.50 425.60,172.30 489.40,172.30" fill="none" stroke="#111" stroke-width="2.7" stroke-linejoin="round" />
<text transform="translate(416.12,181.58) rotate(-90) scale(0.9915,1)" font-size="19.45" font-weight="bold" font-style="normal" fill="#111" stroke="#111" stroke-width="0.2" >500 pA</text>
<text transform="translate(581.72,33.61) scale(1.0052,1)" font-size="19.32" font-weight="bold" font-style="normal" fill="#111" stroke="#111" stroke-width="0.2" >Control</text>
<text transform="translate(533.17,102.00) scale(0.9866,1)" font-size="19.13" font-weight="bold" font-style="normal" fill="#111" stroke="#111" stroke-width="0.2" >Noradrenaline 1</text>
<text transform="translate(682.63,102.05) scale(1.0981,1)" font-size="17.84" font-weight="normal" font-style="normal" fill="#111" stroke="#111" stroke-width="0.2" >µ</text>
<text transform="translate(694.66,102.00) scale(1.0753,1)" font-size="19.13" font-weight="bold" font-style="normal" fill="#111" stroke="#111" stroke-width="0.2" >M</text>
<text transform="translate(486.95,197.20) scale(0.9957,1)" font-size="19.28" font-weight="bold" font-style="normal" fill="#111" stroke="#111" stroke-width="0.2" >Noradrenaline-sensitive current</text>
<polyline points="432.80,276.50 434.00,275.50 436.00,276.80 438.00,275.80 441.20,275.60 443.00,217.70 443.50,219.39 443.90,224.82 444.30,218.85 444.70,215.09 445.10,221.09 445.50,223.08 445.90,222.68 446.30,223.15 446.70,221.38 447.10,219.80 447.50,219.22 447.90,220.92 448.30,220.72 448.70,224.84 449.10,224.48 449.50,218.73 449.90,224.19 450.30,222.69 450.70,226.15 451.10,227.85 451.50,225.22 451.90,217.76 452.30,224.49 452.70,218.53 453.10,227.67 453.50,221.99 453.90,222.90 454.30,229.38 454.70,219.15 455.10,223.63 455.50,220.87 455.90,222.40 456.30,221.84 456.70,226.52 457.10,224.15 457.50,226.01 457.90,227.29 458.30,220.25 458.70,229.23 459.10,225.31 459.50,220.57 459.90,223.25 460.30,228.48 460.70,229.64 461.10,224.64 461.50,226.64 461.90,227.45 462.30,230.16 462.70,226.96 463.10,230.20 463.50,224.87 463.90,224.89 464.30,229.37 464.70,230.22 465.10,228.04 465.50,229.95 465.90,229.07 466.30,230.86 466.70,232.44 467.10,230.67 467.50,231.23 467.90,227.35 468.30,226.23 468.70,220.32 469.10,228.13 469.50,227.75 469.90,229.13 470.30,221.61 470.70,224.92 471.10,224.95 471.50,220.89 471.90,228.78 472.30,230.57 472.70,222.81 473.10,227.14 473.50,231.54 473.90,222.69 474.30,228.41 474.70,230.84 475.10,231.86 475.50,221.69 475.90,221.27 476.30,225.08 476.70,228.53 477.10,221.06 477.50,221.61 477.90,220.39 478.30,227.10 478.70,222.52 479.10,225.39 479.50,225.83 479.90,227.36 480.30,225.06 480.70,224.40 481.10,226.76 481.50,224.75 481.90,218.89 482.30,220.33 482.70,224.91 483.10,222.90 483.50,220.97 483.90,222.48 484.30,232.21 484.70,222.62 485.10,223.01 485.50,222.83 485.90,220.42 486.30,224.70 486.70,224.10 487.10,222.53 487.50,216.75 487.90,224.25 488.30,223.53 488.70,220.71 489.10,212.07 489.50,219.30 489.90,216.47 490.30,219.18 490.70,218.56 491.10,217.42 491.50,223.05 491.90,220.83 492.30,224.05 492.70,217.43 493.10,219.02 493.50,224.07 493.90,221.34 494.30,217.63 494.70,216.61 495.10,217.37 495.50,219.02 495.90,221.60 496.30,220.14 496.70,221.83 497.10,222.25 497.50,219.97 497.90,223.34 498.30,221.94 498.70,218.80 499.10,218.43 499.50,218.79 499.90,216.50 500.30,214.26 500.70,218.30 501.10,216.99 501.50,220.25 501.90,216.84 502.30,218.58 502.70,219.05 503.10,216.93 503.50,218.72 503.90,215.98 504.30,216.52 504.70,220.42 505.10,219.53 505.50,218.12 505.90,215.43 506.30,219.73 506.70,224.38 507.10,211.84 507.50,220.64 507.90,219.14 508.30,221.84 508.70,222.47 509.10,215.72 509.50,223.72 509.90,217.39 510.30,217.80 510.70,220.71 511.10,218.90 511.50,219.88 511.90,217.61 512.30,215.77 512.70,218.98 513.10,215.94 513.50,223.37 513.90,220.87 514.30,224.33 514.70,216.45 515.10,212.95 515.50,211.99 515.90,217.97 516.30,215.90 516.70,220.95 517.10,215.90 517.50,215.61 517.90,220.93 518.30,219.52 518.70,222.84 519.10,223.73 519.50,222.49 519.90,217.47 520.30,218.06 520.70,228.12 521.10,221.53 521.50,222.47 521.90,222.14 522.30,221.71 522.70,221.29 523.10,220.09 523.50,220.18 523.90,215.55 524.30,226.72 524.70,222.53 525.10,218.31 525.50,223.68 525.90,224.89 526.30,218.44 526.70,220.68 527.10,227.40 527.50,225.29 527.90,224.76 528.30,226.58 528.70,223.33 529.10,222.51 529.50,228.47 529.90,223.65 530.30,223.50 530.70,225.83 531.10,224.29 531.50,220.19 531.90,229.66 532.30,224.68 532.70,230.07 533.10,226.74 533.50,221.95 533.90,229.22 534.30,224.74 534.70,222.13 535.10,224.53 535.50,218.23 535.90,225.61 536.30,223.00 536.70,224.29 537.10,222.51 537.50,227.33 537.90,227.00 538.30,229.32 538.70,231.53 539.10,227.52 539.50,226.53 539.90,227.04 540.30,223.49 540.70,223.83 541.10,227.91 541.50,223.24 541.90,219.20 542.30,223.65 542.70,226.03 543.10,230.08 543.50,223.60 543.90,222.05 544.30,225.05 544.70,224.55 545.10,225.69 545.50,223.34 545.90,225.25 546.30,222.95 546.70,227.53 547.10,225.78 547.50,226.43 547.90,223.24 548.30,219.66 548.70,223.71 549.10,223.92 549.50,227.51 549.90,227.45 550.30,224.21 550.70,223.72 551.10,220.62 551.50,223.16 551.90,224.19 552.30,222.27 552.70,219.87 553.10,226.94 553.50,220.78 553.90,228.09 554.30,227.40 554.70,228.39 555.10,220.92 555.50,224.58 555.90,218.61 556.30,221.06 556.70,217.62 557.10,219.63 557.50,220.52 557.90,225.15 558.30,226.01 558.70,221.49 559.10,221.14 559.50,218.97 559.90,218.01 560.30,215.80 560.70,220.39 561.10,223.41 561.50,219.43 561.90,222.43 562.30,217.96 562.70,217.82 563.10,219.20 563.50,223.74 563.90,219.80 564.30,223.29 564.70,220.18 565.10,217.45 565.50,214.30 565.90,218.72 566.30,217.73 566.70,223.45 567.10,222.68 567.50,216.09 567.90,223.04 568.30,222.91 568.70,212.16 569.10,216.68 569.50,221.24 569.90,216.05 570.30,218.13 570.70,222.27 571.10,221.92 571.50,222.51 571.90,223.08 572.30,218.49 572.70,228.13 573.10,223.47 573.50,227.95 573.90,221.00 574.30,222.73 574.70,222.26 575.10,220.67 575.50,221.92 575.90,221.90 576.30,223.62 576.70,222.29 577.10,221.32 577.50,222.54 577.90,225.67 578.30,221.76 578.70,222.96 579.10,221.65 579.50,214.96 579.90,217.46 580.30,217.70 580.70,216.26 581.10,218.49 581.50,215.20 581.90,221.12 582.30,219.32 582.70,224.58 583.10,222.59 583.50,217.22 583.90,219.84 584.30,220.98 584.70,218.87 585.10,219.60 585.50,217.44 585.90,218.28 586.30,221.50 586.70,220.00 587.10,224.59 587.50,214.84 587.90,217.76 588.30,219.43 588.70,225.34 589.10,224.93 589.50,223.77 589.90,224.30 590.30,226.28 590.70,223.67 591.10,220.55 591.50,221.46 591.90,218.77 592.30,219.98 592.70,221.96 593.10,219.50 593.50,221.08 593.90,219.61 594.30,216.70 594.70,215.97 595.10,222.46 595.50,221.20 595.90,223.51 596.30,220.91 596.70,220.87 597.10,221.72 597.50,219.96 597.90,225.04 598.30,224.49 598.70,222.55 599.10,217.87 599.50,218.88 599.90,221.28 600.30,224.50 600.70,221.18 601.10,220.83 601.50,222.48 601.90,221.41 602.30,220.41 602.70,217.28 603.10,224.12 603.50,220.98 603.90,219.14 604.30,220.17 604.70,216.50 605.10,214.95 605.50,214.41 605.90,220.96 606.30,216.49 606.70,220.35 607.10,216.79 607.50,214.51 607.90,217.79 608.30,217.78 608.70,217.90 609.10,225.33 609.50,221.50 609.90,218.57 610.30,222.70 610.70,219.50 611.10,223.82 611.50,215.76 611.90,222.92 612.30,217.08 612.70,217.43 613.10,220.33 613.50,216.72 613.90,214.52 614.30,218.06 614.70,218.75 615.10,214.68 615.50,222.22 615.90,217.57 616.30,217.60 616.70,218.78 617.10,219.76 617.50,222.95 617.90,213.43 618.30,218.91 618.70,222.25 619.10,220.63 619.50,219.45 619.90,216.08 620.30,220.12 620.70,218.04 621.10,219.68 621.50,216.18 621.90,218.02 622.30,218.75 622.70,214.70 623.10,221.92 623.50,219.21 623.90,215.28 624.30,217.97 624.70,219.44 625.10,218.14 625.50,215.83 625.90,218.02 626.30,214.76 626.70,213.41 627.10,221.97 627.50,224.60 627.90,225.39 628.30,226.68 628.70,224.03 629.10,216.64 629.50,216.85 629.90,221.99 630.30,217.74 630.70,217.58 631.10,218.56 631.50,220.00 631.90,214.66 632.30,218.29 632.70,220.12 633.10,212.49 633.50,221.33 633.90,221.27 634.30,216.37 634.70,223.90 635.10,220.43 635.50,220.18 635.90,223.41 636.30,211.08 636.70,217.54 637.10,221.54 637.50,223.09 637.90,218.77 638.30,217.77 638.70,215.83 639.10,216.91 639.50,215.40 639.90,210.44 640.30,215.41 640.70,214.69 641.10,215.83 641.50,216.38 641.90,216.34 642.30,218.12 642.70,217.79 643.10,216.82 643.50,215.89 643.90,217.34 644.30,216.85 644.70,217.33 645.10,222.02 645.50,219.05 645.90,216.70 646.30,211.29 646.70,212.47 647.10,207.95 647.50,219.21 647.90,221.22 648.30,216.79 648.70,216.05 649.10,218.84 649.50,219.45 649.90,212.38 650.30,216.08 650.70,216.32 651.10,213.40 651.50,221.28 651.90,220.23 652.30,216.00 652.70,217.29 653.10,215.96 653.50,216.00 653.90,216.43 654.30,220.91 654.70,218.38 655.10,216.68 655.50,215.90 655.90,218.78 656.30,215.70 656.70,213.12 657.10,217.42 657.50,223.34 657.90,217.12 658.30,219.03 658.70,218.23 659.10,222.60 659.50,220.88 659.90,215.36 660.30,224.06 660.70,219.82 661.10,216.53 661.50,217.48 661.90,219.41 662.30,222.84 662.70,219.13 663.10,217.34 663.50,223.57 663.90,225.14 664.30,219.46 664.70,220.37 665.10,221.27 665.50,219.37 665.90,217.32 666.30,223.18 666.70,217.36 667.10,214.46 667.50,221.63 667.90,224.34 668.30,223.68 668.70,218.78 669.10,219.87 669.50,217.47 669.90,219.00 670.30,213.29 670.70,217.56 671.10,225.09 671.50,218.20 671.90,226.39 672.30,222.64 672.70,215.67 673.10,223.87 673.50,219.07 673.90,223.22 674.30,221.53 674.70,220.86 675.10,221.39 675.50,218.00 675.90,219.39 676.30,220.73 676.70,227.70 677.10,221.33 677.50,223.43 677.90,224.14 678.30,226.68 678.70,222.55 679.10,223.47 679.50,220.15 679.90,230.53 680.30,219.41 680.70,223.55 681.10,222.25 681.50,223.75 681.90,221.86 682.30,221.95 682.70,226.47 683.10,226.97 683.50,223.94 683.90,223.44 684.30,224.45 684.70,223.84 685.10,225.45 685.50,226.72 685.90,226.08 686.30,219.75 686.70,223.80 687.10,221.25 687.50,225.70 687.90,224.06 688.30,225.78 688.70,224.87 689.10,228.02 689.50,229.79 689.90,226.44 690.30,220.99 690.70,225.05 691.10,231.76 691.50,224.39 691.90,225.48 692.30,233.50 692.70,232.22 693.10,228.93 693.50,227.33 693.90,222.45 694.30,231.11 694.70,230.00 695.10,221.91 695.50,225.88 695.90,226.43 696.30,226.78 696.70,225.06 697.10,234.67 697.50,225.54 697.90,231.76 698.30,230.03 698.70,227.98 699.10,229.20 699.50,230.34 699.90,225.86 700.30,226.68 700.70,231.76 701.10,231.59 701.50,229.80 701.90,224.62 702.30,222.60 702.70,231.95 703.10,232.87 703.50,230.03 703.90,229.27 704.30,226.89 704.70,229.11 705.10,231.47 705.50,230.35 705.90,226.12 706.30,228.35 706.70,225.79 707.10,226.85 707.50,223.74 707.90,219.42 708.30,222.90 708.70,227.08 709.10,224.49 709.50,228.24 709.90,225.23 710.30,227.46 710.70,225.32 711.10,230.87 711.50,225.81 711.90,226.44 712.30,229.92 712.70,231.34 713.10,223.28 713.50,230.38 713.90,223.35 714.30,222.75 714.70,223.01 715.10,228.68 715.50,222.91 715.90,227.25 716.30,227.20 716.70,225.25 717.10,226.97 717.50,232.09 717.90,231.22 718.30,223.50 718.70,225.93 719.10,224.14 719.50,224.66 719.90,223.42 720.30,226.55 720.70,222.56 721.10,220.82 721.50,224.53 721.90,225.75 722.30,228.58 722.70,227.21 723.10,222.25 723.50,221.42 723.90,225.10 724.30,225.29 724.70,226.69 725.10,228.63 725.50,217.83 725.90,221.48 726.30,225.48 726.70,220.95 727.10,228.84 727.50,224.37 727.90,225.92 728.30,223.62 728.70,225.05 729.10,225.36 729.50,225.81 729.90,219.95 730.30,217.58 730.70,222.91 731.10,226.24 731.50,223.41 731.90,223.31 732.30,227.09 732.70,226.25 733.10,221.20 733.50,224.01 733.90,223.17 734.30,223.90 734.70,223.54 735.10,225.52 735.50,223.90 735.90,224.78 736.30,223.93 736.70,223.07 737.10,221.84 737.50,224.27 737.90,225.08 738.30,228.64 738.70,231.83 739.10,222.51 739.50,221.43 739.90,226.52 740.30,222.62 740.70,223.80 741.10,219.66 741.50,224.86 741.90,219.16 742.30,226.01 742.70,221.18 743.10,223.87 743.50,226.49 743.90,221.18 744.30,222.75 744.70,229.81 745.10,219.82 745.50,223.29 745.90,217.19 746.30,223.62 746.70,222.79 747.10,219.75 747.50,219.17 747.90,226.56 748.30,225.65 748.70,219.77 749.10,225.25 749.50,220.56 749.90,220.37 750.30,224.01 750.70,222.85 751.10,224.68 751.50,226.58 751.90,221.52 752.30,224.53 752.70,224.11 753.10,218.03 753.50,224.81 753.90,226.26 754.30,222.00 754.60,274.00 757.00,275.50 760.00,275.00 763.00,276.20" fill="none" stroke="#111" stroke-width="1.2" stroke-linejoin="round" />
<polyline points="426.80,234.80 426.80,284.30 490.10,284.30" fill="none" stroke="#111" stroke-width="2.7" stroke-linejoin="round" />
<text transform="translate(415.78,290.67) rotate(-90) scale(1.0005,1)" font-size="19.12" font-weight="bold" font-style="normal" fill="#111" stroke="#111" stroke-width="0.2" >500 pA</text>
<text transform="translate(426.23,309.80) scale(0.9917,1)" font-size="19.29" font-weight="bold" font-style="normal" fill="#111" stroke="#111" stroke-width="0.2" >200 ms</text>
<text transform="translate(0.15,348.00) scale(1.0060,1)" font-size="21.74" font-weight="normal" font-style="normal" fill="#111" stroke="#111" stroke-width="0.2" >B</text>
<text transform="translate(21.70,346.90) scale(1.2043,1)" font-size="17.79" font-weight="bold" font-style="normal" fill="#111" stroke="#111" stroke-width="0.2" >i</text>
<line x1="62.90" y1="400.40" x2="62.90" y2="638.70" stroke="#111" stroke-width="1.6" />
<line x1="62.90" y1="415.40" x2="339.50" y2="415.40" stroke="#111" stroke-width="1.6" />
<line x1="58.30" y1="415.40" x2="62.90" y2="415.40" stroke="#111" stroke-width="1.6" />
<text transform="translate(47.34,421.50) scale(1.0016,1)" font-size="17.57" font-weight="bold" font-style="normal" fill="#111" stroke="#111" stroke-width="0.2" >0</text>
<line x1="58.30" y1="452.46" x2="62.90" y2="452.46" stroke="#111" stroke-width="1.6" />
<text transform="translate(41.18,458.56) scale(1.0016,1)" font-size="17.57" font-weight="bold" font-style="normal" fill="#111" stroke="#111" stroke-width="0.2" >-5</text>
<line x1="58.30" y1="489.53" x2="62.90" y2="489.53" stroke="#111" stroke-width="1.6" />
<text transform="translate(31.67,495.63) scale(1.0016,1)" font-size="17.57" font-weight="bold" font-style="normal" fill="#111" stroke="#111" stroke-width="0.2" >-10</text>
<line x1="58.30" y1="526.60" x2="62.90" y2="526.60" stroke="#111" stroke-width="1.6" />
<text transform="translate(31.41,532.70) scale(1.0016,1)" font-size="17.57" font-weight="bold" font-style="normal" fill="#111" stroke="#111" stroke-width="0.2" >-15</text>
<line x1="58.30" y1="563.66" x2="62.90" y2="563.66" stroke="#111" stroke-width="1.6" />
<text transform="translate(31.67,569.76) scale(1.0016,1)" font-size="17.57" font-weight="bold" font-style="normal" fill="#111" stroke="#111" stroke-width="0.2" >-20</text>
<line x1="58.30" y1="600.73" x2="62.90" y2="600.73" stroke="#111" stroke-width="1.6" />
<text transform="translate(31.41,606.83) scale(1.0016,1)" font-size="17.57" font-weight="bold" font-style="normal" fill="#111" stroke="#111" stroke-width="0.2" >-25</text>
<line x1="58.30" y1="637.79" x2="62.90" y2="637.79" stroke="#111" stroke-width="1.6" />
<text transform="translate(31.67,643.89) scale(1.0016,1)" font-size="17.57" font-weight="bold" font-style="normal" fill="#111" stroke="#111" stroke-width="0.2" >-30</text>
<line x1="88.00" y1="415.40" x2="88.00" y2="419.50" stroke="#111" stroke-width="1.6" />
<text transform="translate(75.28,437.70) scale(1.0807,1)" font-size="16.29" font-weight="bold" font-style="normal" fill="#111" stroke="#111" stroke-width="0.2" >-40</text>
<line x1="138.20" y1="415.40" x2="138.20" y2="419.50" stroke="#111" stroke-width="1.6" />
<text transform="translate(125.48,437.70) scale(1.0807,1)" font-size="16.29" font-weight="bold" font-style="normal" fill="#111" stroke="#111" stroke-width="0.2" >-20</text>
<line x1="188.40" y1="415.40" x2="188.40" y2="419.50" stroke="#111" stroke-width="1.6" />
<text transform="translate(183.52,437.70) scale(1.0807,1)" font-size="16.29" font-weight="bold" font-style="normal" fill="#111" stroke="#111" stroke-width="0.2" >0</text>
<line x1="238.60" y1="415.40" x2="238.60" y2="419.50" stroke="#111" stroke-width="1.6" />
<text transform="translate(228.88,437.70) scale(1.0807,1)" font-size="16.29" font-weight="bold" font-style="normal" fill="#111" stroke="#111" stroke-width="0.2" >20</text>
<line x1="288.80" y1="415.40" x2="288.80" y2="419.50" stroke="#111" stroke-width="1.6" />
<text transform="translate(279.25,437.70) scale(1.0807,1)" font-size="16.29" font-weight="bold" font-style="normal" fill="#111" stroke="#111" stroke-width="0.2" >40</text>
<line x1="339.00" y1="415.40" x2="339.00" y2="419.50" stroke="#111" stroke-width="1.6" />
<text transform="translate(329.28,437.70) scale(1.0807,1)" font-size="16.29" font-weight="bold" font-style="normal" fill="#111" stroke="#111" stroke-width="0.2" >60</text>
<text transform="translate(83.04,397.10) scale(1.0352,1)" font-size="18.76" font-weight="bold" font-style="normal" fill="#111" stroke="#111" stroke-width="0.2" >membrane potential (mV)</text>
<text transform="translate(25.10,624.47) rotate(-90) scale(0.9684,1)" font-size="20.00" font-weight="bold" font-style="normal" fill="#111" stroke="#111" stroke-width="0.2" >Current density (pA/pF)</text>
<circle cx="88.00" cy="415.40" r="5.90" fill="#fff" stroke="#111" stroke-width="2.0"/>
<circle cx="113.10" cy="418.37" r="5.90" fill="#fff" stroke="#111" stroke-width="2.0"/>
<line x1="138.20" y1="459.88" x2="138.20" y2="483.60" stroke="#111" stroke-width="2.0" />
<line x1="131.20" y1="459.88" x2="145.20" y2="459.88" stroke="#111" stroke-width="2.0" />
<line x1="131.20" y1="483.60" x2="145.20" y2="483.60" stroke="#111" stroke-width="2.0" />
<circle cx="138.20" cy="471.74" r="5.90" fill="#fff" stroke="#111" stroke-width="2.0"/>
<line x1="163.30" y1="550.69" x2="163.30" y2="584.05" stroke="#111" stroke-width="2.0" />
<line x1="156.30" y1="550.69" x2="170.30" y2="550.69" stroke="#111" stroke-width="2.0" />
<line x1="156.30" y1="584.05" x2="170.30" y2="584.05" stroke="#111" stroke-width="2.0" />
<circle cx="163.30" cy="567.37" r="5.90" fill="#fff" stroke="#111" stroke-width="2.0"/>
<line x1="188.40" y1="593.31" x2="188.40" y2="617.03" stroke="#111" stroke-width="2.0" />
<line x1="181.40" y1="593.31" x2="195.40" y2="593.31" stroke="#111" stroke-width="2.0" />
<line x1="181.40" y1="617.03" x2="195.40" y2="617.03" stroke="#111" stroke-width="2.0" />
<circle cx="188.40" cy="605.17" r="5.90" fill="#fff" stroke="#111" stroke-width="2.0"/>
<line x1="213.50" y1="587.68" x2="213.50" y2="610.81" stroke="#111" stroke-width="2.0" />
<line x1="206.50" y1="587.68" x2="220.50" y2="587.68" stroke="#111" stroke-width="2.0" />
<line x1="206.50" y1="610.81" x2="220.50" y2="610.81" stroke="#111" stroke-width="2.0" />
<circle cx="213.50" cy="599.24" r="5.90" fill="#fff" stroke="#111" stroke-width="2.0"/>
<line x1="238.60" y1="540.68" x2="238.60" y2="559.95" stroke="#111" stroke-width="2.0" />
<line x1="231.60" y1="540.68" x2="245.60" y2="540.68" stroke="#111" stroke-width="2.0" />
<line x1="231.60" y1="559.95" x2="245.60" y2="559.95" stroke="#111" stroke-width="2.0" />
<circle cx="238.60" cy="550.32" r="5.90" fill="#fff" stroke="#111" stroke-width="2.0"/>
<line x1="263.70" y1="488.79" x2="263.70" y2="503.61" stroke="#111" stroke-width="2.0" />
<line x1="256.70" y1="488.79" x2="270.70" y2="488.79" stroke="#111" stroke-width="2.0" />
<line x1="256.70" y1="503.61" x2="270.70" y2="503.61" stroke="#111" stroke-width="2.0" />
<circle cx="263.70" cy="496.20" r="5.90" fill="#fff" stroke="#111" stroke-width="2.0"/>
<line x1="288.80" y1="442.83" x2="288.80" y2="460.62" stroke="#111" stroke-width="2.0" />
<line x1="281.80" y1="442.83" x2="295.80" y2="442.83" stroke="#111" stroke-width="2.0" />
<line x1="281.80" y1="460.62" x2="295.80" y2="460.62" stroke="#111" stroke-width="2.0" />
<circle cx="288.80" cy="451.72" r="5.90" fill="#fff" stroke="#111" stroke-width="2.0"/>
<circle cx="313.90" cy="421.63" r="5.90" fill="#fff" stroke="#111" stroke-width="2.0"/>
<circle cx="88.00" cy="415.40" r="6.30" fill="#111" stroke="none" stroke-width="0"/>
<circle cx="113.10" cy="418.37" r="6.30" fill="#111" stroke="none" stroke-width="0"/>
<circle cx="138.20" cy="428.45" r="6.30" fill="#111" stroke="none" stroke-width="0"/>
<circle cx="163.30" cy="455.80" r="6.30" fill="#111" stroke="none" stroke-width="0"/>
<line x1="188.40" y1="473.59" x2="188.40" y2="492.12" stroke="#111" stroke-width="2.0" />
<line x1="181.40" y1="473.59" x2="195.40" y2="473.59" stroke="#111" stroke-width="2.0" />
<line x1="181.40" y1="492.12" x2="195.40" y2="492.12" stroke="#111" stroke-width="2.0" />
<circle cx="188.40" cy="482.86" r="6.30" fill="#111" stroke="none" stroke-width="0"/>
<line x1="213.50" y1="474.70" x2="213.50" y2="493.98" stroke="#111" stroke-width="2.0" />
<line x1="206.50" y1="474.70" x2="220.50" y2="474.70" stroke="#111" stroke-width="2.0" />
<line x1="206.50" y1="493.98" x2="220.50" y2="493.98" stroke="#111" stroke-width="2.0" />
<circle cx="213.50" cy="484.34" r="6.30" fill="#111" stroke="none" stroke-width="0"/>
<line x1="238.60" y1="459.14" x2="238.60" y2="478.41" stroke="#111" stroke-width="2.0" />
<line x1="231.60" y1="459.14" x2="245.60" y2="459.14" stroke="#111" stroke-width="2.0" />
<line x1="231.60" y1="478.41" x2="245.60" y2="478.41" stroke="#111" stroke-width="2.0" />
<circle cx="238.60" cy="468.77" r="6.30" fill="#111" stroke="none" stroke-width="0"/>
<line x1="263.70" y1="428.00" x2="263.70" y2="451.72" stroke="#111" stroke-width="2.0" />
<line x1="256.70" y1="428.00" x2="270.70" y2="428.00" stroke="#111" stroke-width="2.0" />
<line x1="256.70" y1="451.72" x2="270.70" y2="451.72" stroke="#111" stroke-width="2.0" />
<circle cx="263.70" cy="439.86" r="6.30" fill="#111" stroke="none" stroke-width="0"/>
<line x1="288.80" y1="414.66" x2="288.80" y2="429.48" stroke="#111" stroke-width="2.0" />
<line x1="281.80" y1="414.66" x2="295.80" y2="414.66" stroke="#111" stroke-width="2.0" />
<line x1="281.80" y1="429.48" x2="295.80" y2="429.48" stroke="#111" stroke-width="2.0" />
<circle cx="288.80" cy="422.07" r="6.30" fill="#111" stroke="none" stroke-width="0"/>
<line x1="313.90" y1="405.02" x2="313.90" y2="419.85" stroke="#111" stroke-width="2.0" />
<line x1="306.90" y1="405.02" x2="320.90" y2="405.02" stroke="#111" stroke-width="2.0" />
<line x1="306.90" y1="419.85" x2="320.90" y2="419.85" stroke="#111" stroke-width="2.0" />
<circle cx="313.90" cy="412.43" r="6.30" fill="#111" stroke="none" stroke-width="0"/>
<polyline points="88.00,417.53 89.26,417.72 90.51,417.93 91.77,418.15 93.02,418.40 94.28,418.67 95.53,418.95 96.79,419.27 98.04,419.61 99.30,419.98 100.55,420.38 101.81,420.82 103.06,421.30 104.32,421.81 105.57,422.37 106.83,422.98 108.08,423.64 109.34,424.36 110.59,425.13 111.85,425.97 113.10,426.87 114.36,427.85 115.61,428.92 116.87,430.06 118.12,431.30 119.38,432.63 120.63,434.07 121.89,435.62 123.14,437.28 124.40,439.07 125.65,440.99 126.91,443.05 128.16,445.26 129.42,447.61 130.67,450.13 131.93,452.80 133.18,455.65 134.44,458.68 135.69,461.88 136.94,465.27 138.20,468.84 139.46,472.59 140.71,476.53 141.97,480.65 143.22,484.95 144.48,489.41 145.73,494.03 146.99,498.81 148.24,503.72 149.50,508.74 150.75,513.87 152.00,519.08 153.26,524.35 154.52,529.65 155.77,534.96 157.03,540.26 158.28,545.51 159.53,550.70 160.79,555.78 162.05,560.75 163.30,565.57 164.56,570.22 165.81,574.67 167.06,578.92 168.32,582.94 169.58,586.73 170.83,590.26 172.09,593.53 173.34,596.54 174.59,599.28 175.85,601.75 177.11,603.95 178.36,605.89 179.62,607.56 180.87,608.99 182.12,610.17 183.38,611.11 184.64,611.83 185.89,612.34 187.15,612.63 188.40,612.74 189.66,612.66 190.91,612.41 192.16,612.00 193.42,611.44 194.68,610.75 195.93,609.92 197.19,608.97 198.44,607.91 199.69,606.75 200.95,605.49 202.21,604.14 203.46,602.72 204.72,601.22 205.97,599.66 207.22,598.03 208.48,596.35 209.74,594.62 210.99,592.84 212.25,591.02 213.50,589.16 214.75,587.26 216.01,585.33 217.27,583.37 218.52,581.39 219.78,579.38 221.03,577.35 222.28,575.30 223.54,573.24 224.80,571.15 226.05,569.05 227.31,566.94 228.56,564.82 229.81,562.68 231.07,560.54 232.32,558.38 233.58,556.22 234.84,554.05 236.09,551.88 237.34,549.70 238.60,547.51 239.86,545.32 241.11,543.12 242.37,540.92 243.62,538.72 244.88,536.51 246.13,534.31 247.38,532.09 248.64,529.88 249.90,527.66 251.15,525.44 252.41,523.22 253.66,521.00 254.92,518.78 256.17,516.56 257.43,514.33 258.68,512.10 259.94,509.88 261.19,507.65 262.44,505.42 263.70,503.19 264.95,500.96 266.21,498.73 267.47,496.50 268.72,494.27 269.98,492.04 271.23,489.80 272.49,487.57 273.74,485.34 275.00,483.11 276.25,480.87 277.50,478.64 278.76,476.41 280.01,474.17 281.27,471.94 282.52,469.70 283.78,467.47 285.03,465.24 286.29,463.00 287.55,460.77 288.80,458.53 290.06,456.30 291.31,454.06 292.56,451.83 293.82,449.59 295.07,447.36 296.33,445.12 297.58,442.89 298.84,440.65 300.10,438.42 301.35,436.18 302.61,433.95 303.86,431.72 305.12,429.48 306.37,427.25 307.62,425.01 308.88,422.78 310.13,420.54 311.39,418.31 312.64,416.07 313.90,413.84 315.15,411.60 316.41,409.37" fill="none" stroke="#111" stroke-width="1.5" stroke-linejoin="round" />
<polyline points="88.00,416.00 89.26,416.05 90.51,416.10 91.77,416.16 93.02,416.22 94.28,416.29 95.53,416.36 96.79,416.44 98.04,416.52 99.30,416.62 100.55,416.71 101.81,416.82 103.06,416.94 104.32,417.06 105.57,417.19 106.83,417.34 108.08,417.49 109.34,417.66 110.59,417.84 111.85,418.04 113.10,418.25 114.36,418.48 115.61,418.72 116.87,418.98 118.12,419.27 119.38,419.57 120.63,419.90 121.89,420.25 123.14,420.62 124.40,421.03 125.65,421.46 126.91,421.93 128.16,422.43 129.42,422.96 130.67,423.53 131.93,424.14 133.18,424.79 134.44,425.48 135.69,426.22 136.94,427.01 138.20,427.84 139.46,428.73 140.71,429.67 141.97,430.66 143.22,431.71 144.48,432.81 145.73,433.97 146.99,435.19 148.24,436.47 149.50,437.80 150.75,439.20 152.00,440.65 153.26,442.15 154.52,443.70 155.77,445.30 157.03,446.95 158.28,448.64 159.53,450.36 160.79,452.11 162.05,453.89 163.30,455.68 164.56,457.48 165.81,459.29 167.06,461.09 168.32,462.87 169.58,464.63 170.83,466.36 172.09,468.05 173.34,469.70 174.59,471.29 175.85,472.82 177.11,474.28 178.36,475.67 179.62,476.98 180.87,478.21 182.12,479.35 183.38,480.41 184.64,481.37 185.89,482.24 187.15,483.01 188.40,483.70 189.66,484.29 190.91,484.79 192.16,485.21 193.42,485.54 194.68,485.78 195.93,485.95 197.19,486.03 198.44,486.04 199.69,485.99 200.95,485.86 202.21,485.67 203.46,485.43 204.72,485.12 205.97,484.76 207.22,484.36 208.48,483.91 209.74,483.41 210.99,482.88 212.25,482.30 213.50,481.70 214.75,481.06 216.01,480.39 217.27,479.70 218.52,478.98 219.78,478.24 221.03,477.47 222.28,476.69 223.54,475.89 224.80,475.07 226.05,474.24 227.31,473.40 228.56,472.54 229.81,471.67 231.07,470.79 232.32,469.90 233.58,469.00 234.84,468.10 236.09,467.18 237.34,466.27 238.60,465.34 239.86,464.41 241.11,463.47 242.37,462.54 243.62,461.59 244.88,460.64 246.13,459.69 247.38,458.74 248.64,457.78 249.90,456.82 251.15,455.86 252.41,454.90 253.66,453.93 254.92,452.97 256.17,452.00 257.43,451.03 258.68,450.06 259.94,449.09 261.19,448.11 262.44,447.14 263.70,446.16 264.95,445.19 266.21,444.21 267.47,443.23 268.72,442.26 269.98,441.28 271.23,440.30 272.49,439.32 273.74,438.34 275.00,437.36 276.25,436.38 277.50,435.40 278.76,434.42 280.01,433.44 281.27,432.46 282.52,431.48 283.78,430.50 285.03,429.52 286.29,428.54 287.55,427.56 288.80,426.57 290.06,425.59 291.31,424.61 292.56,423.63 293.82,422.65 295.07,421.67 296.33,420.68 297.58,419.70 298.84,418.72 300.10,417.74 301.35,416.76 302.61,415.77 303.86,414.79 305.12,413.81 306.37,412.83 307.62,411.84 308.88,410.86 310.13,409.88 311.39,408.90 312.64,407.92 313.90,406.93 315.15,405.95 316.41,404.97" fill="none" stroke="#111" stroke-width="1.5" stroke-linejoin="round" />
<text transform="translate(130.66,507.39) scale(1.0868,1)" font-size="20.86" font-weight="normal" font-style="normal" fill="#111" stroke="#111" stroke-width="0.5" >**</text>
<text transform="translate(149.65,603.79) scale(1.1215,1)" font-size="20.57" font-weight="normal" font-style="normal" fill="#111" stroke="#111" stroke-width="0.5" >***</text>
<text transform="translate(174.96,637.99) scale(1.1129,1)" font-size="20.57" font-weight="normal" font-style="normal" fill="#111" stroke="#111" stroke-width="0.5" >***</text>
<text transform="translate(202.06,629.89) scale(1.1129,1)" font-size="20.57" font-weight="normal" font-style="normal" fill="#111" stroke="#111" stroke-width="0.5" >***</text>
<text transform="translate(226.16,581.49) scale(1.1172,1)" font-size="20.57" font-weight="normal" font-style="normal" fill="#111" stroke="#111" stroke-width="0.5" >***</text>
<text transform="translate(250.35,523.79) scale(1.0766,1)" font-size="21.43" font-weight="normal" font-style="normal" fill="#111" stroke="#111" stroke-width="0.5" >***</text>
<text transform="translate(412.78,346.80) scale(1.0331,1)" font-size="18.21" font-weight="bold" font-style="normal" fill="#111" stroke="#111" stroke-width="0.2" >ii</text>
<line x1="467.30" y1="346.40" x2="467.30" y2="661.00" stroke="#111" stroke-width="1.8" />
<line x1="467.30" y1="621.90" x2="750.80" y2="621.90" stroke="#111" stroke-width="1.8" />
<line x1="461.50" y1="661.12" x2="467.30" y2="661.12" stroke="#111" stroke-width="1.8" />
<text transform="translate(443.62,668.07) scale(0.9820,1)" font-size="19.86" font-weight="bold" font-style="normal" fill="#111" stroke="#111" stroke-width="0.2" >-2</text>
<line x1="461.50" y1="621.90" x2="467.30" y2="621.90" stroke="#111" stroke-width="1.8" />
<text transform="translate(450.16,628.85) scale(0.9820,1)" font-size="19.86" font-weight="bold" font-style="normal" fill="#111" stroke="#111" stroke-width="0.2" >0</text>
<line x1="461.50" y1="582.68" x2="467.30" y2="582.68" stroke="#111" stroke-width="1.8" />
<text transform="translate(450.16,589.63) scale(0.9820,1)" font-size="19.86" font-weight="bold" font-style="normal" fill="#111" stroke="#111" stroke-width="0.2" >2</text>
<line x1="461.50" y1="543.46" x2="467.30" y2="543.46" stroke="#111" stroke-width="1.8" />
<text transform="translate(449.47,550.41) scale(0.9820,1)" font-size="19.86" font-weight="bold" font-style="normal" fill="#111" stroke="#111" stroke-width="0.2" >4</text>
<line x1="461.50" y1="504.24" x2="467.30" y2="504.24" stroke="#111" stroke-width="1.8" />
<text transform="translate(450.06,511.19) scale(0.9820,1)" font-size="19.86" font-weight="bold" font-style="normal" fill="#111" stroke="#111" stroke-width="0.2" >6</text>
<line x1="461.50" y1="465.02" x2="467.30" y2="465.02" stroke="#111" stroke-width="1.8" />
<text transform="translate(449.96,471.97) scale(0.9820,1)" font-size="19.86" font-weight="bold" font-style="normal" fill="#111" stroke="#111" stroke-width="0.2" >8</text>
<line x1="461.50" y1="425.80" x2="467.30" y2="425.80" stroke="#111" stroke-width="1.8" />
<text transform="translate(439.33,432.75) scale(0.9820,1)" font-size="19.86" font-weight="bold" font-style="normal" fill="#111" stroke="#111" stroke-width="0.2" >10</text>
<line x1="461.50" y1="386.58" x2="467.30" y2="386.58" stroke="#111" stroke-width="1.8" />
<text transform="translate(439.33,393.53) scale(0.9820,1)" font-size="19.86" font-weight="bold" font-style="normal" fill="#111" stroke="#111" stroke-width="0.2" >12</text>
<line x1="461.50" y1="347.36" x2="467.30" y2="347.36" stroke="#111" stroke-width="1.8" />
<text transform="translate(438.65,354.31) scale(0.9820,1)" font-size="19.86" font-weight="bold" font-style="normal" fill="#111" stroke="#111" stroke-width="0.2" >14</text>
<line x1="492.50" y1="621.90" x2="492.50" y2="627.50" stroke="#111" stroke-width="1.8" />
<text transform="translate(478.41,658.80) scale(0.9891,1)" font-size="19.71" font-weight="bold" font-style="normal" fill="#111" stroke="#111" stroke-width="0.2" >-40</text>
<line x1="544.30" y1="621.90" x2="544.30" y2="627.50" stroke="#111" stroke-width="1.8" />
<text transform="translate(530.21,658.80) scale(0.9891,1)" font-size="19.71" font-weight="bold" font-style="normal" fill="#111" stroke="#111" stroke-width="0.2" >-20</text>
<line x1="596.10" y1="621.90" x2="596.10" y2="627.50" stroke="#111" stroke-width="1.8" />
<text transform="translate(590.69,658.80) scale(0.9891,1)" font-size="19.71" font-weight="bold" font-style="normal" fill="#111" stroke="#111" stroke-width="0.2" >0</text>
<line x1="647.90" y1="621.90" x2="647.90" y2="627.50" stroke="#111" stroke-width="1.8" />
<text transform="translate(637.13,658.80) scale(0.9891,1)" font-size="19.71" font-weight="bold" font-style="normal" fill="#111" stroke="#111" stroke-width="0.2" >20</text>
<line x1="699.70" y1="621.90" x2="699.70" y2="627.50" stroke="#111" stroke-width="1.8" />
<text transform="translate(689.12,658.80) scale(0.9891,1)" font-size="19.71" font-weight="bold" font-style="normal" fill="#111" stroke="#111" stroke-width="0.2" >40</text>
<line x1="751.50" y1="621.90" x2="751.50" y2="627.50" stroke="#111" stroke-width="1.8" />
<text transform="translate(740.73,658.80) scale(0.9891,1)" font-size="19.71" font-weight="bold" font-style="normal" fill="#111" stroke="#111" stroke-width="0.2" >60</text>
<text transform="translate(484.60,684.60) scale(1.0071,1)" font-size="21.38" font-weight="bold" font-style="normal" fill="#111" stroke="#111" stroke-width="0.2" >membrane potential (mV)</text>
<text transform="translate(431.40,621.56) rotate(-90) scale(0.9995,1)" font-size="21.53" font-weight="bold" font-style="normal" fill="#111" stroke="#111" stroke-width="0.2" >Current density (pA/pF)</text>
<line x1="492.50" y1="614.06" x2="492.50" y2="631.70" stroke="#111" stroke-width="2.2" />
<line x1="484.90" y1="614.06" x2="500.10" y2="614.06" stroke="#111" stroke-width="2.2" />
<line x1="484.90" y1="631.70" x2="500.10" y2="631.70" stroke="#111" stroke-width="2.2" />
<rect x="485.80" y="616.18" width="13.40" height="13.40" fill="#fff" stroke="#111" stroke-width="2.1"/>
<line x1="518.40" y1="621.12" x2="518.40" y2="632.88" stroke="#111" stroke-width="2.2" />
<line x1="510.80" y1="621.12" x2="526.00" y2="621.12" stroke="#111" stroke-width="2.2" />
<line x1="510.80" y1="632.88" x2="526.00" y2="632.88" stroke="#111" stroke-width="2.2" />
<rect x="511.70" y="620.30" width="13.40" height="13.40" fill="#fff" stroke="#111" stroke-width="2.1"/>
<rect x="537.60" y="608.34" width="13.40" height="13.40" fill="#fff" stroke="#111" stroke-width="2.1"/>
<rect x="563.50" y="587.75" width="13.40" height="13.40" fill="#fff" stroke="#111" stroke-width="2.1"/>
<line x1="596.10" y1="568.95" x2="596.10" y2="588.56" stroke="#111" stroke-width="2.2" />
<line x1="588.50" y1="568.95" x2="603.70" y2="568.95" stroke="#111" stroke-width="2.2" />
<line x1="588.50" y1="588.56" x2="603.70" y2="588.56" stroke="#111" stroke-width="2.2" />
<rect x="589.40" y="572.06" width="13.40" height="13.40" fill="#fff" stroke="#111" stroke-width="2.1"/>
<line x1="622.00" y1="552.28" x2="622.00" y2="573.86" stroke="#111" stroke-width="2.2" />
<line x1="614.40" y1="552.28" x2="629.60" y2="552.28" stroke="#111" stroke-width="2.2" />
<line x1="614.40" y1="573.86" x2="629.60" y2="573.86" stroke="#111" stroke-width="2.2" />
<rect x="615.30" y="556.37" width="13.40" height="13.40" fill="#fff" stroke="#111" stroke-width="2.1"/>
<line x1="647.90" y1="538.56" x2="647.90" y2="564.05" stroke="#111" stroke-width="2.2" />
<line x1="640.30" y1="538.56" x2="655.50" y2="538.56" stroke="#111" stroke-width="2.2" />
<line x1="640.30" y1="564.05" x2="655.50" y2="564.05" stroke="#111" stroke-width="2.2" />
<rect x="641.20" y="544.60" width="13.40" height="13.40" fill="#fff" stroke="#111" stroke-width="2.1"/>
<line x1="673.80" y1="520.91" x2="673.80" y2="550.32" stroke="#111" stroke-width="2.2" />
<line x1="666.20" y1="520.91" x2="681.40" y2="520.91" stroke="#111" stroke-width="2.2" />
<line x1="666.20" y1="550.32" x2="681.40" y2="550.32" stroke="#111" stroke-width="2.2" />
<rect x="667.10" y="528.92" width="13.40" height="13.40" fill="#fff" stroke="#111" stroke-width="2.1"/>
<line x1="699.70" y1="501.49" x2="699.70" y2="536.79" stroke="#111" stroke-width="2.2" />
<line x1="692.10" y1="501.49" x2="707.30" y2="501.49" stroke="#111" stroke-width="2.2" />
<line x1="692.10" y1="536.79" x2="707.30" y2="536.79" stroke="#111" stroke-width="2.2" />
<rect x="693.00" y="512.44" width="13.40" height="13.40" fill="#fff" stroke="#111" stroke-width="2.1"/>
<line x1="725.60" y1="471.30" x2="725.60" y2="512.48" stroke="#111" stroke-width="2.2" />
<line x1="718.00" y1="471.30" x2="733.20" y2="471.30" stroke="#111" stroke-width="2.2" />
<line x1="718.00" y1="512.48" x2="733.20" y2="512.48" stroke="#111" stroke-width="2.2" />
<rect x="718.90" y="485.19" width="13.40" height="13.40" fill="#fff" stroke="#111" stroke-width="2.1"/>
<line x1="492.50" y1="616.41" x2="492.50" y2="643.47" stroke="#111" stroke-width="2.2" />
<line x1="484.90" y1="616.41" x2="500.10" y2="616.41" stroke="#111" stroke-width="2.2" />
<line x1="484.90" y1="643.47" x2="500.10" y2="643.47" stroke="#111" stroke-width="2.2" />
<rect x="485.50" y="622.94" width="14.00" height="14.00" fill="#111" />
<line x1="518.40" y1="607.19" x2="518.40" y2="633.86" stroke="#111" stroke-width="2.2" />
<line x1="510.80" y1="607.19" x2="526.00" y2="607.19" stroke="#111" stroke-width="2.2" />
<line x1="510.80" y1="633.86" x2="526.00" y2="633.86" stroke="#111" stroke-width="2.2" />
<rect x="511.40" y="613.53" width="14.00" height="14.00" fill="#111" />
<line x1="544.30" y1="591.50" x2="544.30" y2="613.08" stroke="#111" stroke-width="2.2" />
<line x1="536.70" y1="591.50" x2="551.90" y2="591.50" stroke="#111" stroke-width="2.2" />
<line x1="536.70" y1="613.08" x2="551.90" y2="613.08" stroke="#111" stroke-width="2.2" />
<rect x="537.30" y="595.29" width="14.00" height="14.00" fill="#111" />
<line x1="570.20" y1="570.91" x2="570.20" y2="594.45" stroke="#111" stroke-width="2.2" />
<line x1="562.60" y1="570.91" x2="577.80" y2="570.91" stroke="#111" stroke-width="2.2" />
<line x1="562.60" y1="594.45" x2="577.80" y2="594.45" stroke="#111" stroke-width="2.2" />
<rect x="563.20" y="575.68" width="14.00" height="14.00" fill="#111" />
<line x1="596.10" y1="544.44" x2="596.10" y2="567.97" stroke="#111" stroke-width="2.2" />
<line x1="588.50" y1="544.44" x2="603.70" y2="544.44" stroke="#111" stroke-width="2.2" />
<line x1="588.50" y1="567.97" x2="603.70" y2="567.97" stroke="#111" stroke-width="2.2" />
<rect x="589.10" y="549.21" width="14.00" height="14.00" fill="#111" />
<line x1="622.00" y1="514.04" x2="622.00" y2="543.46" stroke="#111" stroke-width="2.2" />
<line x1="614.40" y1="514.04" x2="629.60" y2="514.04" stroke="#111" stroke-width="2.2" />
<line x1="614.40" y1="543.46" x2="629.60" y2="543.46" stroke="#111" stroke-width="2.2" />
<rect x="615.00" y="521.75" width="14.00" height="14.00" fill="#111" />
<line x1="647.90" y1="478.75" x2="647.90" y2="517.97" stroke="#111" stroke-width="2.2" />
<line x1="640.30" y1="478.75" x2="655.50" y2="478.75" stroke="#111" stroke-width="2.2" />
<line x1="640.30" y1="517.97" x2="655.50" y2="517.97" stroke="#111" stroke-width="2.2" />
<rect x="640.90" y="491.36" width="14.00" height="14.00" fill="#111" />
<line x1="673.80" y1="443.45" x2="673.80" y2="492.47" stroke="#111" stroke-width="2.2" />
<line x1="666.20" y1="443.45" x2="681.40" y2="443.45" stroke="#111" stroke-width="2.2" />
<line x1="666.20" y1="492.47" x2="681.40" y2="492.47" stroke="#111" stroke-width="2.2" />
<rect x="666.80" y="460.96" width="14.00" height="14.00" fill="#111" />
<line x1="699.70" y1="404.23" x2="699.70" y2="463.06" stroke="#111" stroke-width="2.2" />
<line x1="692.10" y1="404.23" x2="707.30" y2="404.23" stroke="#111" stroke-width="2.2" />
<line x1="692.10" y1="463.06" x2="707.30" y2="463.06" stroke="#111" stroke-width="2.2" />
<rect x="692.70" y="426.64" width="14.00" height="14.00" fill="#111" />
<line x1="725.60" y1="363.05" x2="725.60" y2="429.72" stroke="#111" stroke-width="2.2" />
<line x1="718.00" y1="363.05" x2="733.20" y2="363.05" stroke="#111" stroke-width="2.2" />
<line x1="718.00" y1="429.72" x2="733.20" y2="429.72" stroke="#111" stroke-width="2.2" />
<rect x="718.60" y="389.38" width="14.00" height="14.00" fill="#111" />
<polyline points="492.50,629.94 518.40,620.53 544.30,602.29 570.20,582.68 596.10,556.21 622.00,528.75 647.90,498.36 673.80,467.96 699.70,433.64 725.60,396.38" fill="none" stroke="#111" stroke-width="1.6" stroke-linejoin="round" />
<polyline points="492.50,622.88 518.40,627.00 544.30,615.04 570.20,594.45 596.10,578.76 622.00,563.07 647.90,551.30 673.80,535.62 699.70,519.14 725.60,491.89" fill="none" stroke="#111" stroke-width="1.6" stroke-linejoin="round" />
<text transform="translate(629.57,466.09) scale(0.9469,1)" font-size="30.57" font-weight="normal" font-style="normal" fill="#111" stroke="#111" stroke-width="0.5" >***</text>
<text transform="translate(657.16,431.61) scale(1.0153,1)" font-size="28.86" font-weight="normal" font-style="normal" fill="#111" stroke="#111" stroke-width="0.5" >***</text>
<text transform="translate(681.55,396.41) scale(1.0335,1)" font-size="28.86" font-weight="normal" font-style="normal" fill="#111" stroke="#111" stroke-width="0.5" >***</text>
<text transform="translate(708.15,356.71) scale(1.0408,1)" font-size="28.57" font-weight="normal" font-style="normal" fill="#111" stroke="#111" stroke-width="0.5" >***</text>
<line x1="551.10" y1="350.00" x2="551.10" y2="467.20" stroke="#777" stroke-width="1.2" />
<line x1="488.00" y1="467.20" x2="626.70" y2="467.20" stroke="#777" stroke-width="1.2" />
<line x1="500.60" y1="467.20" x2="500.60" y2="464.50" stroke="#777" stroke-width="1.2" />
<line x1="551.10" y1="467.20" x2="551.10" y2="464.50" stroke="#777" stroke-width="1.2" />
<line x1="601.60" y1="467.20" x2="601.60" y2="464.50" stroke="#777" stroke-width="1.2" />
<line x1="548.00" y1="360.50" x2="550.80" y2="360.50" stroke="#777" stroke-width="1.2" />
<text transform="translate(539.00,366.20) scale(0.7885,1)" font-size="17.00" font-weight="bold" font-style="normal" fill="#111" stroke="#111" stroke-width="0.2" >1</text>
<text transform="translate(488.14,485.60) scale(1.1475,1)" font-size="14.43" font-weight="bold" font-style="normal" fill="#111" stroke="#111" stroke-width="0.2" >-40</text>
<text transform="translate(546.57,485.60) scale(1.0943,1)" font-size="14.43" font-weight="bold" font-style="normal" fill="#111" stroke="#111" stroke-width="0.2" >0</text>
<text transform="translate(592.15,485.60) scale(1.1759,1)" font-size="14.43" font-weight="bold" font-style="normal" fill="#111" stroke="#111" stroke-width="0.2" >40</text>
<text transform="translate(616.61,492.18) scale(1.1897,1)" font-size="21.71" font-weight="normal" font-style="normal" fill="#111" stroke="#111" stroke-width="0.5" >*</text>
<text transform="translate(522.61,505.50) scale(1.0583,1)" font-size="16.23" font-weight="bold" font-style="normal" fill="#111" stroke="#111" stroke-width="0.2" >Vm (mV)</text>
<text transform="translate(529.9,390.3) rotate(-90)" font-size="18.6" font-weight="bold" font-style="italic" fill="#111">G/G<tspan font-size="13" dx="1.5" dy="3.7">max</tspan></text>
<polyline points="500.60,458.96 501.40,458.68 502.20,458.40 503.00,458.12 503.80,457.83 504.60,457.54 505.40,457.23 506.20,456.92 507.00,456.60 507.80,456.27 508.60,455.94 509.40,455.59 510.20,455.22 511.00,454.85 511.80,454.46 512.60,454.07 513.40,453.65 514.20,453.23 515.00,452.79 515.80,452.33 516.60,451.86 517.40,451.38 518.20,450.88 519.00,450.36 519.80,449.83 520.60,449.29 521.40,448.72 522.20,448.15 523.00,447.55 523.80,446.94 524.60,446.31 525.40,445.67 526.20,445.01 527.00,444.34 527.80,443.65 528.60,442.95 529.40,442.23 530.20,441.49 531.00,440.74 531.80,439.98 532.60,439.20 533.40,438.41 534.20,437.60 535.00,436.78 535.80,435.95 536.60,435.10 537.40,434.24 538.20,433.38 539.00,432.49 539.80,431.60 540.60,430.70 541.40,429.79 542.20,428.87 543.00,427.93 543.80,426.99 544.60,426.05 545.40,425.09 546.20,424.13 547.00,423.16 547.80,422.18 548.60,421.20 549.40,420.22 550.20,419.23 551.00,418.23 551.80,417.24 552.60,416.24 553.40,415.24 554.20,414.23 555.00,413.23 555.80,412.23 556.60,411.22 557.40,410.22 558.20,409.22 559.00,408.22 559.80,407.23 560.60,406.23 561.40,405.24 562.20,404.26 563.00,403.28 563.80,402.31 564.60,401.34 565.40,400.38 566.20,399.43 567.00,398.48 567.80,397.54 568.60,396.62 569.40,395.70 570.20,394.79 571.00,393.89 571.80,393.00 572.60,392.13 573.40,391.26 574.20,390.41 575.00,389.57 575.80,388.74 576.60,387.93 577.40,387.13 578.20,386.35 579.00,385.58 579.80,384.82 580.60,384.08 581.40,383.35 582.20,382.65 583.00,381.95 583.80,381.27 584.60,380.61 585.40,379.97 586.20,379.34 587.00,378.73 587.80,378.13 588.60,377.55 589.40,376.99 590.20,376.45 591.00,375.92 591.80,375.41 592.60,374.91 593.40,374.43 594.20,373.97 595.00,373.53 595.80,373.10 596.60,372.68 597.40,372.28 598.20,371.90 599.00,371.53 599.80,371.18 600.60,370.84 601.40,370.51 602.20,370.20 603.00,369.90 603.80,369.61 604.60,369.33 605.40,369.06 606.20,368.80 607.00,368.55 607.80,368.31 608.60,368.08 609.40,367.85 610.20,367.63 611.00,367.41 611.80,367.20 612.60,366.99 613.40,366.78" fill="none" stroke="#222" stroke-width="1.1" stroke-linejoin="round" />
<line x1="513.23" y1="429.50" x2="513.23" y2="460.40" stroke="#222" stroke-width="1.2" />
<line x1="509.62" y1="429.50" x2="516.83" y2="429.50" stroke="#222" stroke-width="1.2" />
<line x1="509.62" y1="460.40" x2="516.83" y2="460.40" stroke="#222" stroke-width="1.2" />
<circle cx="513.23" cy="445.00" r="3.50" fill="#111" stroke="none" stroke-width="0"/>
<line x1="525.85" y1="417.40" x2="525.85" y2="441.10" stroke="#222" stroke-width="1.2" />
<line x1="522.25" y1="417.40" x2="529.45" y2="417.40" stroke="#222" stroke-width="1.2" />
<line x1="522.25" y1="441.10" x2="529.45" y2="441.10" stroke="#222" stroke-width="1.2" />
<circle cx="525.85" cy="429.10" r="3.50" fill="#111" stroke="none" stroke-width="0"/>
<line x1="538.48" y1="420.00" x2="538.48" y2="440.60" stroke="#222" stroke-width="1.2" />
<line x1="534.88" y1="420.00" x2="542.08" y2="420.00" stroke="#222" stroke-width="1.2" />
<line x1="534.88" y1="440.60" x2="542.08" y2="440.60" stroke="#222" stroke-width="1.2" />
<circle cx="538.48" cy="430.50" r="3.50" fill="#111" stroke="none" stroke-width="0"/>
<line x1="551.10" y1="417.70" x2="551.10" y2="429.10" stroke="#222" stroke-width="1.2" />
<line x1="547.50" y1="417.70" x2="554.70" y2="417.70" stroke="#222" stroke-width="1.2" />
<line x1="547.50" y1="429.10" x2="554.70" y2="429.10" stroke="#222" stroke-width="1.2" />
<circle cx="551.10" cy="423.00" r="3.50" fill="#111" stroke="none" stroke-width="0"/>
<circle cx="563.73" cy="410.70" r="3.50" fill="#111" stroke="none" stroke-width="0"/>
<circle cx="576.35" cy="391.90" r="3.50" fill="#111" stroke="none" stroke-width="0"/>
<line x1="588.98" y1="366.70" x2="588.98" y2="384.30" stroke="#222" stroke-width="1.2" />
<line x1="585.38" y1="366.70" x2="592.58" y2="366.70" stroke="#222" stroke-width="1.2" />
<line x1="585.38" y1="384.30" x2="592.58" y2="384.30" stroke="#222" stroke-width="1.2" />
<circle cx="588.98" cy="375.50" r="3.50" fill="#111" stroke="none" stroke-width="0"/>
<line x1="601.60" y1="359.10" x2="601.60" y2="367.60" stroke="#222" stroke-width="1.2" />
<line x1="598.00" y1="359.10" x2="605.20" y2="359.10" stroke="#222" stroke-width="1.2" />
<line x1="598.00" y1="367.60" x2="605.20" y2="367.60" stroke="#222" stroke-width="1.2" />
<circle cx="601.60" cy="363.70" r="3.50" fill="#111" stroke="none" stroke-width="0"/>
<circle cx="614.23" cy="360.20" r="3.50" fill="#111" stroke="none" stroke-width="0"/>
<text transform="translate(15.22,723.57) scale(0.9574,1)" font-size="22.54" font-weight="normal" font-style="normal" fill="#111" stroke="#111" stroke-width="0.2" >C</text>
<line x1="86.60" y1="744.80" x2="86.60" y2="1003.40" stroke="#111" stroke-width="1.6" />
<line x1="86.60" y1="1003.40" x2="340.00" y2="1003.40" stroke="#111" stroke-width="1.6" />
<line x1="87.50" y1="798.50" x2="339.50" y2="798.50" stroke="#444" stroke-width="0.9" stroke-dasharray="1.2,1.2"/>
<line x1="82.00" y1="745.10" x2="86.60" y2="745.10" stroke="#111" stroke-width="1.6" />
<text transform="translate(70.79,752.40) scale(0.9877,1)" font-size="20.86" font-weight="bold" font-style="normal" fill="#111" stroke="#111" stroke-width="0.2" >6</text>
<line x1="82.00" y1="798.50" x2="86.60" y2="798.50" stroke="#111" stroke-width="1.6" />
<text transform="translate(70.89,805.80) scale(0.9877,1)" font-size="20.86" font-weight="bold" font-style="normal" fill="#111" stroke="#111" stroke-width="0.2" >0</text>
<line x1="82.00" y1="851.90" x2="86.60" y2="851.90" stroke="#111" stroke-width="1.6" />
<text transform="translate(63.89,859.20) scale(0.9877,1)" font-size="20.86" font-weight="bold" font-style="normal" fill="#111" stroke="#111" stroke-width="0.2" >-6</text>
<line x1="82.00" y1="905.30" x2="86.60" y2="905.30" stroke="#111" stroke-width="1.6" />
<text transform="translate(52.56,912.60) scale(0.9877,1)" font-size="20.86" font-weight="bold" font-style="normal" fill="#111" stroke="#111" stroke-width="0.2" >-12</text>
<line x1="82.00" y1="958.70" x2="86.60" y2="958.70" stroke="#111" stroke-width="1.6" />
<text transform="translate(52.35,966.00) scale(0.9877,1)" font-size="20.86" font-weight="bold" font-style="normal" fill="#111" stroke="#111" stroke-width="0.2" >-18</text>
<line x1="102.60" y1="1003.40" x2="102.60" y2="1008.00" stroke="#111" stroke-width="1.6" />
<text transform="translate(83.10,1026.20) scale(0.9964,1)" font-size="19.57" font-weight="bold" font-style="normal" fill="#111" stroke="#111" stroke-width="0.2" >-120</text>
<line x1="165.80" y1="1003.40" x2="165.80" y2="1008.00" stroke="#111" stroke-width="1.6" />
<text transform="translate(151.71,1026.20) scale(0.9964,1)" font-size="19.57" font-weight="bold" font-style="normal" fill="#111" stroke="#111" stroke-width="0.2" >-80</text>
<line x1="229.00" y1="1003.40" x2="229.00" y2="1008.00" stroke="#111" stroke-width="1.6" />
<text transform="translate(214.91,1026.20) scale(0.9964,1)" font-size="19.57" font-weight="bold" font-style="normal" fill="#111" stroke="#111" stroke-width="0.2" >-40</text>
<line x1="292.20" y1="1003.40" x2="292.20" y2="1008.00" stroke="#111" stroke-width="1.6" />
<text transform="translate(286.79,1026.20) scale(0.9964,1)" font-size="19.57" font-weight="bold" font-style="normal" fill="#111" stroke="#111" stroke-width="0.2" >0</text>
<text transform="translate(94.33,1049.00) scale(1.0122,1)" font-size="19.31" font-weight="bold" font-style="normal" fill="#111" stroke="#111" stroke-width="0.2" >membrane potential (mV)</text>
<text transform="translate(29.70,978.28) rotate(-90) scale(0.9597,1)" font-size="20.42" font-weight="bold" font-style="normal" fill="#111" stroke="#111" stroke-width="0.2" >Current density (pA/pF)</text>
<circle cx="229.00" cy="800.28" r="5.60" fill="#fff" stroke="#111" stroke-width="1.7"/>
<circle cx="244.80" cy="796.27" r="5.60" fill="#fff" stroke="#111" stroke-width="1.7"/>
<circle cx="260.60" cy="790.49" r="5.60" fill="#fff" stroke="#111" stroke-width="1.7"/>
<circle cx="276.40" cy="786.93" r="5.60" fill="#fff" stroke="#111" stroke-width="1.7"/>
<circle cx="292.20" cy="780.70" r="5.60" fill="#fff" stroke="#111" stroke-width="1.7"/>
<circle cx="308.00" cy="773.58" r="5.60" fill="#fff" stroke="#111" stroke-width="1.7"/>
<circle cx="323.80" cy="765.57" r="5.60" fill="#fff" stroke="#111" stroke-width="1.7"/>
<line x1="102.60" y1="955.59" x2="102.60" y2="984.07" stroke="#111" stroke-width="2.0" />
<line x1="96.30" y1="955.59" x2="108.90" y2="955.59" stroke="#111" stroke-width="2.0" />
<line x1="96.30" y1="984.07" x2="108.90" y2="984.07" stroke="#111" stroke-width="2.0" />
<circle cx="102.60" cy="969.83" r="6.10" fill="#111" stroke="none" stroke-width="0"/>
<line x1="118.40" y1="915.98" x2="118.40" y2="937.34" stroke="#111" stroke-width="2.0" />
<line x1="112.10" y1="915.98" x2="124.70" y2="915.98" stroke="#111" stroke-width="2.0" />
<line x1="112.10" y1="937.34" x2="124.70" y2="937.34" stroke="#111" stroke-width="2.0" />
<circle cx="118.40" cy="926.66" r="6.10" fill="#111" stroke="none" stroke-width="0"/>
<line x1="134.20" y1="868.81" x2="134.20" y2="883.94" stroke="#111" stroke-width="2.0" />
<line x1="127.90" y1="868.81" x2="140.50" y2="868.81" stroke="#111" stroke-width="2.0" />
<line x1="127.90" y1="883.94" x2="140.50" y2="883.94" stroke="#111" stroke-width="2.0" />
<circle cx="134.20" cy="876.38" r="6.10" fill="#111" stroke="none" stroke-width="0"/>
<line x1="150.00" y1="832.32" x2="150.00" y2="844.78" stroke="#111" stroke-width="2.0" />
<line x1="143.70" y1="832.32" x2="156.30" y2="832.32" stroke="#111" stroke-width="2.0" />
<line x1="143.70" y1="844.78" x2="156.30" y2="844.78" stroke="#111" stroke-width="2.0" />
<circle cx="150.00" cy="838.55" r="6.10" fill="#111" stroke="none" stroke-width="0"/>
<circle cx="165.80" cy="821.37" r="6.10" fill="#111" stroke="none" stroke-width="0"/>
<circle cx="181.60" cy="813.01" r="6.10" fill="#111" stroke="none" stroke-width="0"/>
<circle cx="197.40" cy="807.40" r="6.10" fill="#111" stroke="none" stroke-width="0"/>
<circle cx="213.20" cy="802.50" r="6.10" fill="#111" stroke="none" stroke-width="0"/>
<circle cx="229.00" cy="797.16" r="6.10" fill="#111" stroke="none" stroke-width="0"/>
<circle cx="244.80" cy="792.27" r="6.10" fill="#111" stroke="none" stroke-width="0"/>
<circle cx="260.60" cy="786.04" r="6.10" fill="#111" stroke="none" stroke-width="0"/>
<circle cx="276.40" cy="779.81" r="6.10" fill="#111" stroke="none" stroke-width="0"/>
<circle cx="292.20" cy="770.91" r="6.10" fill="#111" stroke="none" stroke-width="0"/>
<circle cx="308.00" cy="760.23" r="6.10" fill="#111" stroke="none" stroke-width="0"/>
<circle cx="323.80" cy="746.88" r="6.10" fill="#111" stroke="none" stroke-width="0"/>
<polyline points="229.00,800.28 244.80,796.27 260.60,790.49 276.40,786.93 292.20,780.70 308.00,773.58 323.80,765.57" fill="none" stroke="#111" stroke-width="1.4" stroke-linejoin="round" />
<polyline points="102.60,969.83 118.40,926.66 134.20,876.38 150.00,838.55 165.80,821.37 181.60,813.01 197.40,807.40 213.20,802.50 229.00,797.16 244.80,792.27 260.60,786.04 276.40,779.81 292.20,770.91 308.00,760.23 323.80,746.88" fill="none" stroke="#111" stroke-width="1.6" stroke-linejoin="round" />
<text transform="translate(235.38,792.75) scale(1.1030,1)" font-size="25.14" font-weight="normal" font-style="normal" fill="#111" stroke="#111" stroke-width="0.5" >**</text>
<text transform="translate(244.37,781.55) scale(1.1280,1)" font-size="25.43" font-weight="normal" font-style="normal" fill="#111" stroke="#111" stroke-width="0.5" >***</text>
<text transform="translate(260.58,768.85) scale(1.1164,1)" font-size="25.14" font-weight="normal" font-style="normal" fill="#111" stroke="#111" stroke-width="0.5" >***</text>
<text transform="translate(276.27,756.15) scale(1.1540,1)" font-size="24.86" font-weight="normal" font-style="normal" fill="#111" stroke="#111" stroke-width="0.5" >***</text>
<text transform="translate(292.18,741.25) scale(1.1129,1)" font-size="25.14" font-weight="normal" font-style="normal" fill="#111" stroke="#111" stroke-width="0.5" >***</text>
<text transform="translate(307.59,728.34) scale(1.0746,1)" font-size="25.71" font-weight="normal" font-style="normal" fill="#111" stroke="#111" stroke-width="0.5" >***</text>
<polyline points="232.00,916.90 241.00,916.90 241.00,853.60 260.60,853.60 354.00,942.50 354.00,916.90 364.60,916.90" fill="none" stroke="#333" stroke-width="1.2" stroke-linejoin="round" />
<line x1="251.00" y1="944.60" x2="345.00" y2="944.60" stroke="#333" stroke-width="1.3" />
<text transform="translate(149.85,864.60) scale(0.9728,1)" font-size="21.86" font-weight="bold" font-style="normal" fill="#111" stroke="#111" stroke-width="0.2" >+20 mV</text>
<text transform="translate(154.15,926.30) scale(0.9897,1)" font-size="21.43" font-weight="bold" font-style="normal" fill="#111" stroke="#111" stroke-width="0.2" >-80 mV</text>
<text transform="translate(144.16,954.00) scale(0.9761,1)" font-size="21.57" font-weight="bold" font-style="normal" fill="#111" stroke="#111" stroke-width="0.2" >-120 mV</text>
<text transform="translate(278.86,968.00) scale(1.0015,1)" font-size="21.14" font-weight="bold" font-style="normal" fill="#111" stroke="#111" stroke-width="0.2" >500 ms</text>
<text transform="translate(412.47,721.80) scale(1.0040,1)" font-size="21.59" font-weight="normal" font-style="normal" fill="#111" stroke="#111" stroke-width="0.2" >D</text>
<line x1="485.50" y1="722.10" x2="485.50" y2="1003.50" stroke="#1a1a1a" stroke-width="1.2" />
<line x1="719.60" y1="721.40" x2="719.60" y2="1004.20" stroke="#1a1a1a" stroke-width="1.2" />
<line x1="482.80" y1="986.30" x2="722.70" y2="986.30" stroke="#1a1a1a" stroke-width="1.2" />
<line x1="482.80" y1="986.30" x2="485.50" y2="986.30" stroke="#1a1a1a" stroke-width="1.2" />
<line x1="719.60" y1="986.30" x2="722.70" y2="986.30" stroke="#1a1a1a" stroke-width="1.2" />
<text transform="translate(468.83,993.80) scale(0.9940,1)" font-size="21.43" font-weight="bold" font-style="normal" fill="#111" stroke="#111" stroke-width="0.2" >0</text>
<text transform="translate(724.65,993.80) scale(0.9940,1)" font-size="21.43" font-weight="bold" font-style="normal" fill="#111" stroke="#111" stroke-width="0.2" >0</text>
<line x1="483.80" y1="968.72" x2="485.50" y2="968.72" stroke="#444" stroke-width="1.0" />
<line x1="719.60" y1="968.72" x2="721.60" y2="968.72" stroke="#444" stroke-width="1.0" />
<line x1="483.80" y1="951.14" x2="485.50" y2="951.14" stroke="#444" stroke-width="1.0" />
<line x1="719.60" y1="951.14" x2="721.60" y2="951.14" stroke="#444" stroke-width="1.0" />
<line x1="483.80" y1="933.56" x2="485.50" y2="933.56" stroke="#444" stroke-width="1.0" />
<line x1="719.60" y1="933.56" x2="721.60" y2="933.56" stroke="#444" stroke-width="1.0" />
<line x1="483.80" y1="915.98" x2="485.50" y2="915.98" stroke="#444" stroke-width="1.0" />
<line x1="719.60" y1="915.98" x2="721.60" y2="915.98" stroke="#444" stroke-width="1.0" />
<line x1="482.80" y1="898.40" x2="485.50" y2="898.40" stroke="#1a1a1a" stroke-width="1.2" />
<line x1="719.60" y1="898.40" x2="722.70" y2="898.40" stroke="#1a1a1a" stroke-width="1.2" />
<text transform="translate(457.01,905.90) scale(0.9940,1)" font-size="21.43" font-weight="bold" font-style="normal" fill="#111" stroke="#111" stroke-width="0.2" >50</text>
<text transform="translate(724.86,905.90) scale(0.9940,1)" font-size="21.43" font-weight="bold" font-style="normal" fill="#111" stroke="#111" stroke-width="0.2" >50</text>
<line x1="483.80" y1="880.82" x2="485.50" y2="880.82" stroke="#444" stroke-width="1.0" />
<line x1="719.60" y1="880.82" x2="721.60" y2="880.82" stroke="#444" stroke-width="1.0" />
<line x1="483.80" y1="863.24" x2="485.50" y2="863.24" stroke="#444" stroke-width="1.0" />
<line x1="719.60" y1="863.24" x2="721.60" y2="863.24" stroke="#444" stroke-width="1.0" />
<line x1="483.80" y1="845.66" x2="485.50" y2="845.66" stroke="#444" stroke-width="1.0" />
<line x1="719.60" y1="845.66" x2="721.60" y2="845.66" stroke="#444" stroke-width="1.0" />
<line x1="483.80" y1="828.08" x2="485.50" y2="828.08" stroke="#444" stroke-width="1.0" />
<line x1="719.60" y1="828.08" x2="721.60" y2="828.08" stroke="#444" stroke-width="1.0" />
<line x1="482.80" y1="810.50" x2="485.50" y2="810.50" stroke="#1a1a1a" stroke-width="1.2" />
<line x1="719.60" y1="810.50" x2="722.70" y2="810.50" stroke="#1a1a1a" stroke-width="1.2" />
<text transform="translate(445.19,818.00) scale(0.9940,1)" font-size="21.43" font-weight="bold" font-style="normal" fill="#111" stroke="#111" stroke-width="0.2" >100</text>
<text transform="translate(724.22,818.00) scale(0.9940,1)" font-size="21.43" font-weight="bold" font-style="normal" fill="#111" stroke="#111" stroke-width="0.2" >100</text>
<line x1="483.80" y1="792.92" x2="485.50" y2="792.92" stroke="#444" stroke-width="1.0" />
<line x1="719.60" y1="792.92" x2="721.60" y2="792.92" stroke="#444" stroke-width="1.0" />
<line x1="483.80" y1="775.34" x2="485.50" y2="775.34" stroke="#444" stroke-width="1.0" />
<line x1="719.60" y1="775.34" x2="721.60" y2="775.34" stroke="#444" stroke-width="1.0" />
<line x1="483.80" y1="757.76" x2="485.50" y2="757.76" stroke="#444" stroke-width="1.0" />
<line x1="719.60" y1="757.76" x2="721.60" y2="757.76" stroke="#444" stroke-width="1.0" />
<line x1="483.80" y1="740.18" x2="485.50" y2="740.18" stroke="#444" stroke-width="1.0" />
<line x1="719.60" y1="740.18" x2="721.60" y2="740.18" stroke="#444" stroke-width="1.0" />
<line x1="482.80" y1="722.60" x2="485.50" y2="722.60" stroke="#1a1a1a" stroke-width="1.2" />
<line x1="719.60" y1="722.60" x2="722.70" y2="722.60" stroke="#1a1a1a" stroke-width="1.2" />
<text transform="translate(445.19,730.10) scale(0.9940,1)" font-size="21.43" font-weight="bold" font-style="normal" fill="#111" stroke="#111" stroke-width="0.2" >150</text>
<text transform="translate(724.22,730.10) scale(0.9940,1)" font-size="21.43" font-weight="bold" font-style="normal" fill="#111" stroke="#111" stroke-width="0.2" >150</text>
<line x1="528.20" y1="986.30" x2="528.20" y2="988.80" stroke="#444" stroke-width="1.0" />
<text transform="translate(512.31,1024.80) scale(1.0007,1)" font-size="21.29" font-weight="bold" font-style="normal" fill="#111" stroke="#111" stroke-width="0.2" >-10</text>
<line x1="570.80" y1="986.30" x2="570.80" y2="988.80" stroke="#444" stroke-width="1.0" />
<text transform="translate(560.77,1024.80) scale(1.0007,1)" font-size="21.29" font-weight="bold" font-style="normal" fill="#111" stroke="#111" stroke-width="0.2" >-9</text>
<line x1="613.40" y1="986.30" x2="613.40" y2="988.80" stroke="#444" stroke-width="1.0" />
<text transform="translate(603.32,1024.80) scale(1.0007,1)" font-size="21.29" font-weight="bold" font-style="normal" fill="#111" stroke="#111" stroke-width="0.2" >-8</text>
<line x1="656.00" y1="986.30" x2="656.00" y2="988.80" stroke="#444" stroke-width="1.0" />
<text transform="translate(646.02,1024.80) scale(1.0007,1)" font-size="21.29" font-weight="bold" font-style="normal" fill="#111" stroke="#111" stroke-width="0.2" >-7</text>
<line x1="698.60" y1="986.30" x2="698.60" y2="988.80" stroke="#444" stroke-width="1.0" />
<text transform="translate(688.57,1024.80) scale(1.0007,1)" font-size="21.29" font-weight="bold" font-style="normal" fill="#111" stroke="#111" stroke-width="0.2" >-6</text>
<line x1="549.50" y1="986.30" x2="549.50" y2="988.30" stroke="#666" stroke-width="0.9" />
<line x1="592.10" y1="986.30" x2="592.10" y2="988.30" stroke="#666" stroke-width="0.9" />
<line x1="634.70" y1="986.30" x2="634.70" y2="988.30" stroke="#666" stroke-width="0.9" />
<line x1="677.30" y1="986.30" x2="677.30" y2="988.30" stroke="#666" stroke-width="0.9" />
<text transform="translate(538.32,1053.80) scale(1.0378,1)" font-size="20.43" font-weight="bold" font-style="normal" fill="#111" stroke="#111" stroke-width="0.2" >Log [NA] (M)</text>
<line x1="570.80" y1="927.41" x2="570.80" y2="950.61" stroke="#333" stroke-width="1.4" />
<line x1="565.60" y1="927.41" x2="576.00" y2="927.41" stroke="#333" stroke-width="1.4" />
<line x1="565.60" y1="950.61" x2="576.00" y2="950.61" stroke="#333" stroke-width="1.4" />
<line x1="613.40" y1="904.90" x2="613.40" y2="924.59" stroke="#333" stroke-width="1.4" />
<line x1="608.20" y1="904.90" x2="618.60" y2="904.90" stroke="#333" stroke-width="1.4" />
<line x1="608.20" y1="924.59" x2="618.60" y2="924.59" stroke="#333" stroke-width="1.4" />
<line x1="656.00" y1="901.92" x2="656.00" y2="919.50" stroke="#333" stroke-width="1.4" />
<line x1="650.80" y1="901.92" x2="661.20" y2="901.92" stroke="#333" stroke-width="1.4" />
<line x1="650.80" y1="919.50" x2="661.20" y2="919.50" stroke="#333" stroke-width="1.4" />
<line x1="698.60" y1="895.76" x2="698.60" y2="910.88" stroke="#333" stroke-width="1.4" />
<line x1="693.40" y1="895.76" x2="703.80" y2="895.76" stroke="#333" stroke-width="1.4" />
<line x1="693.40" y1="910.88" x2="703.80" y2="910.88" stroke="#333" stroke-width="1.4" />
<rect x="501.45" y="976.23" width="9.20" height="9.60" fill="#fff" stroke="#1a1a1a" stroke-width="1.7"/>
<rect x="544.05" y="973.06" width="9.20" height="9.60" fill="#fff" stroke="#1a1a1a" stroke-width="1.7"/>
<rect x="556.83" y="961.11" width="9.20" height="9.60" fill="#fff" stroke="#1a1a1a" stroke-width="1.7"/>
<rect x="566.20" y="934.21" width="9.20" height="9.60" fill="#fff" stroke="#1a1a1a" stroke-width="1.7"/>
<rect x="608.80" y="909.95" width="9.20" height="9.60" fill="#fff" stroke="#1a1a1a" stroke-width="1.7"/>
<rect x="651.40" y="905.91" width="9.20" height="9.60" fill="#fff" stroke="#1a1a1a" stroke-width="1.7"/>
<rect x="694.00" y="898.52" width="9.20" height="9.60" fill="#fff" stroke="#1a1a1a" stroke-width="1.7"/>
<line x1="548.65" y1="979.09" x2="548.65" y2="1001.95" stroke="#333" stroke-width="1.4" />
<line x1="543.45" y1="979.09" x2="553.85" y2="979.09" stroke="#333" stroke-width="1.4" />
<line x1="543.45" y1="1001.95" x2="553.85" y2="1001.95" stroke="#333" stroke-width="1.4" />
<line x1="570.80" y1="972.41" x2="570.80" y2="1001.24" stroke="#333" stroke-width="1.4" />
<line x1="565.60" y1="972.41" x2="576.00" y2="972.41" stroke="#333" stroke-width="1.4" />
<line x1="565.60" y1="1001.24" x2="576.00" y2="1001.24" stroke="#333" stroke-width="1.4" />
<line x1="613.40" y1="975.22" x2="613.40" y2="1001.59" stroke="#333" stroke-width="1.4" />
<line x1="608.20" y1="975.22" x2="618.60" y2="975.22" stroke="#333" stroke-width="1.4" />
<line x1="608.20" y1="1001.59" x2="618.60" y2="1001.59" stroke="#333" stroke-width="1.4" />
<line x1="656.00" y1="899.81" x2="656.00" y2="950.79" stroke="#333" stroke-width="1.4" />
<line x1="650.80" y1="899.81" x2="661.20" y2="899.81" stroke="#333" stroke-width="1.4" />
<line x1="650.80" y1="950.79" x2="661.20" y2="950.79" stroke="#333" stroke-width="1.4" />
<line x1="698.60" y1="752.13" x2="698.60" y2="824.21" stroke="#333" stroke-width="1.4" />
<line x1="693.40" y1="752.13" x2="703.80" y2="752.13" stroke="#333" stroke-width="1.4" />
<line x1="693.40" y1="824.21" x2="703.80" y2="824.21" stroke="#333" stroke-width="1.4" />
<rect x="543.75" y="985.62" width="9.80" height="9.80" fill="#111" />
<rect x="565.90" y="981.93" width="9.80" height="9.80" fill="#111" />
<rect x="608.50" y="983.51" width="9.80" height="9.80" fill="#111" />
<rect x="651.10" y="920.40" width="9.80" height="9.80" fill="#111" />
<rect x="693.70" y="783.27" width="9.80" height="9.80" fill="#111" />
<polyline points="506.05,982.25 506.90,982.25 507.75,982.25 508.60,982.25 509.46,982.25 510.31,982.25 511.16,982.25 512.01,982.25 512.86,982.25 513.72,982.25 514.57,982.25 515.42,982.25 516.27,982.24 517.12,982.24 517.98,982.24 518.83,982.24 519.68,982.23 520.53,982.23 521.38,982.23 522.24,982.22 523.09,982.22 523.94,982.21 524.79,982.20 525.64,982.20 526.50,982.19 527.35,982.18 528.20,982.16 529.05,982.15 529.90,982.13 530.76,982.11 531.61,982.09 532.46,982.07 533.31,982.04 534.16,982.01 535.02,981.97 535.87,981.93 536.72,981.88 537.57,981.82 538.42,981.76 539.28,981.69 540.13,981.60 540.98,981.50 541.83,981.39 542.68,981.26 543.54,981.12 544.39,980.95 545.24,980.75 546.09,980.53 546.94,980.28 547.80,979.99 548.65,979.67 549.50,979.29 550.35,978.87 551.20,978.39 552.06,977.84 552.91,977.22 553.76,976.53 554.61,975.74 555.46,974.86 556.32,973.88 557.17,972.79 558.02,971.57 558.87,970.23 559.72,968.76 560.58,967.15 561.43,965.41 562.28,963.53 563.13,961.52 563.98,959.39 564.84,957.14 565.69,954.79 566.54,952.37 567.39,949.88 568.24,947.35 569.10,944.81 569.95,942.28 570.80,939.79 571.65,937.35 572.50,935.00 573.36,932.74 574.21,930.59 575.06,928.57 575.91,926.68 576.76,924.92 577.62,923.30 578.47,921.82 579.32,920.46 580.17,919.24 581.02,918.13 581.88,917.14 582.73,916.25 583.58,915.46 584.43,914.75 585.28,914.13 586.14,913.57 586.99,913.08 587.84,912.65 588.69,912.28 589.54,911.94 590.40,911.65 591.25,911.40 592.10,911.17 592.95,910.98 593.80,910.81 594.66,910.66 595.51,910.53 596.36,910.42 597.21,910.32 598.06,910.23 598.92,910.16 599.77,910.09 600.62,910.03 601.47,909.98 602.32,909.94 603.18,909.90 604.03,909.87 604.88,909.84 605.73,909.82 606.58,909.79 607.44,909.78 608.29,909.76 609.14,909.75 609.99,909.73 610.84,909.72 611.70,909.71 612.55,909.71 613.40,909.70 614.25,909.69 615.10,909.69 615.96,909.68 616.81,909.68 617.66,909.67 618.51,909.67 619.36,909.67 620.22,909.67 621.07,909.66 621.92,909.66 622.77,909.66 623.62,909.66 624.48,909.66 625.33,909.66 626.18,909.66 627.03,909.66 627.88,909.66 628.74,909.65 629.59,909.65 630.44,909.65 631.29,909.65 632.14,909.65 633.00,909.65 633.85,909.65 634.70,909.65 635.55,909.65 636.40,909.65 637.26,909.65 638.11,909.65 638.96,909.65 639.81,909.65 640.66,909.65 641.52,909.65 642.37,909.65 643.22,909.65 644.07,909.65 644.92,909.65 645.78,909.65 646.63,909.65 647.48,909.65 648.33,909.65 649.18,909.65 650.04,909.65 650.89,909.65 651.74,909.65 652.59,909.65 653.44,909.65 654.30,909.65 655.15,909.65 656.00,909.65 656.85,909.65 657.70,909.65 658.56,909.65 659.41,909.65 660.26,909.65 661.11,909.65 661.96,909.65 662.82,909.65 663.67,909.65 664.52,909.65 665.37,909.65 666.22,909.65 667.08,909.65 667.93,909.65 668.78,909.65 669.63,909.65 670.48,909.65 671.34,909.65 672.19,909.65 673.04,909.65 673.89,909.65 674.74,909.65 675.60,909.65 676.45,909.65 677.30,909.65 678.15,909.65 679.00,909.65 679.86,909.65 680.71,909.65 681.56,909.65 682.41,909.65 683.26,909.65 684.12,909.65 684.97,909.65 685.82,909.65 686.67,909.65 687.52,909.65 688.38,909.65 689.23,909.65 690.08,909.65 690.93,909.65 691.78,909.65 692.64,909.65 693.49,909.65 694.34,909.65 695.19,909.65 696.04,909.65 696.90,909.65 697.75,909.65 698.60,909.65" fill="none" stroke="#333" stroke-width="1.2" stroke-linejoin="round" />
<polyline points="548.65,987.88 549.50,987.88 550.35,987.88 551.20,987.88 552.06,987.88 552.91,987.88 553.76,987.88 554.61,987.88 555.46,987.88 556.32,987.88 557.17,987.88 558.02,987.88 558.87,987.88 559.72,987.88 560.58,987.88 561.43,987.88 562.28,987.88 563.13,987.88 563.98,987.88 564.84,987.88 565.69,987.88 566.54,987.88 567.39,987.88 568.24,987.88 569.10,987.88 569.95,987.88 570.80,987.88 571.65,987.88 572.50,987.88 573.36,987.88 574.21,987.88 575.06,987.88 575.91,987.88 576.76,987.88 577.62,987.88 578.47,987.88 579.32,987.88 580.17,987.88 581.02,987.87 581.88,987.87 582.73,987.87 583.58,987.87 584.43,987.87 585.28,987.87 586.14,987.87 586.99,987.87 587.84,987.86 588.69,987.86 589.54,987.86 590.40,987.86 591.25,987.85 592.10,987.85 592.95,987.85 593.80,987.84 594.66,987.84 595.51,987.83 596.36,987.83 597.21,987.82 598.06,987.82 598.92,987.81 599.77,987.80 600.62,987.79 601.47,987.78 602.32,987.77 603.18,987.76 604.03,987.74 604.88,987.73 605.73,987.71 606.58,987.69 607.44,987.67 608.29,987.65 609.14,987.62 609.99,987.59 610.84,987.56 611.70,987.52 612.55,987.48 613.40,987.44 614.25,987.39 615.10,987.33 615.96,987.27 616.81,987.20 617.66,987.12 618.51,987.04 619.36,986.95 620.22,986.84 621.07,986.72 621.92,986.60 622.77,986.45 623.62,986.29 624.48,986.12 625.33,985.92 626.18,985.70 627.03,985.46 627.88,985.19 628.74,984.89 629.59,984.56 630.44,984.20 631.29,983.79 632.14,983.35 633.00,982.85 633.85,982.30 634.70,981.69 635.55,981.02 636.40,980.28 637.26,979.47 638.11,978.57 638.96,977.57 639.81,976.48 640.66,975.29 641.52,973.97 642.37,972.53 643.22,970.96 644.07,969.24 644.92,967.36 645.78,965.32 646.63,963.11 647.48,960.71 648.33,958.12 649.18,955.33 650.04,952.33 650.89,949.13 651.74,945.71 652.59,942.07 653.44,938.22 654.30,934.16 655.15,929.91 656.00,925.46 656.85,920.83 657.70,916.04 658.56,911.11 659.41,906.07 660.26,900.93 661.11,895.72 661.96,890.48 662.82,885.23 663.67,880.01 664.52,874.83 665.37,869.74 666.22,864.75 667.08,859.89 667.93,855.18 668.78,850.64 669.63,846.28 670.48,842.12 671.34,838.17 672.19,834.43 673.04,830.90 673.89,827.58 674.74,824.48 675.60,821.59 676.45,818.90 677.30,816.41 678.15,814.10 679.00,811.98 679.86,810.02 680.71,808.23 681.56,806.58 682.41,805.07 683.26,803.70 684.12,802.44 684.97,801.30 685.82,800.26 686.67,799.31 687.52,798.46 688.38,797.68 689.23,796.97 690.08,796.34 690.93,795.76 691.78,795.24 692.64,794.77 693.49,794.34 694.34,793.95 695.19,793.61 696.04,793.29 696.90,793.01 697.75,792.76 698.60,792.53" fill="none" stroke="#111" stroke-width="1.3" stroke-linejoin="round" />
<text transform="translate(430.79,962.53) rotate(-90) scale(0.9904,1)" font-size="21.22" font-weight="bold" font-style="normal" fill="#111" stroke="#111" stroke-width="0.2" >%inhibition in</text>
<text transform="translate(430.50,819.22) rotate(-90) scale(1.4027,1)" font-size="18.41" font-weight="bold" font-style="italic" fill="#111" stroke="#111" stroke-width="0.2" >I</text>
<text transform="translate(435.33,813.34) rotate(-90) scale(0.9263,1)" font-size="17.29" font-weight="bold" font-style="normal" fill="#111" stroke="#111" stroke-width="0.2" >Kss</text>
<text transform="translate(431.03,778.84) rotate(-90) scale(1.2585,1)" font-size="21.28" font-weight="bold" font-style="normal" fill="#111" stroke="#111" stroke-width="0.2" >(</text>
<text transform="translate(431.03,750.60) rotate(-90) scale(0.8243,1)" font-size="21.28" font-weight="bold" font-style="normal" fill="#111" stroke="#111" stroke-width="0.2" >)</text>
<rect x="418.80" y="754.40" width="11.40" height="12.90" fill="none" stroke="#111" stroke-width="2.0"/>
<text transform="translate(780.11,746.78) rotate(90) scale(1.0163,1)" font-size="20.54" font-weight="bold" font-style="normal" fill="#111" stroke="#111" stroke-width="0.2" >%increase in</text>
<text transform="translate(780.20,887.01) rotate(90) scale(1.1514,1)" font-size="21.16" font-weight="bold" font-style="italic" fill="#111" stroke="#111" stroke-width="0.2" >I</text>
<text transform="translate(775.15,893.61) rotate(90) scale(1.0128,1)" font-size="14.65" font-weight="bold" font-style="normal" fill="#111" stroke="#111" stroke-width="0.2" >CaL</text>
<text transform="translate(779.91,928.57) rotate(90) scale(0.9044,1)" font-size="20.53" font-weight="bold" font-style="normal" fill="#111" stroke="#111" stroke-width="0.2" >(</text>
<text transform="translate(779.91,951.30) rotate(90) scale(0.9740,1)" font-size="20.53" font-weight="bold" font-style="normal" fill="#111" stroke="#111" stroke-width="0.2" >)</text>
<rect x="781.30" y="937.30" width="12.40" height="11.90" fill="#111" />
</svg></body></html>
